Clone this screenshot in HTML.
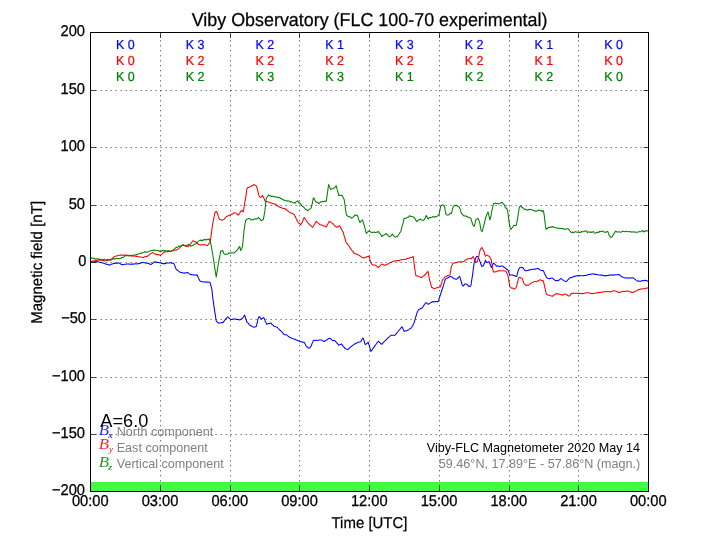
<!DOCTYPE html>
<html lang="en"><head><meta charset="utf-8"><title>Viby Observatory (FLC 100-70 experimental)</title>
<style>
html,body{margin:0;padding:0;background:#fff;}
body{width:720px;height:540px;overflow:hidden;}
svg{display:block;will-change:transform;}
text{font-family:"Liberation Sans",Arial,Helvetica,sans-serif;fill:#000;}
.tk{font-size:15px;}
.al{font-size:15.6px;text-rendering:geometricPrecision;stroke:#000;stroke-width:0.25px;}
.tn{font-size:15.6px;text-rendering:geometricPrecision;stroke:#000;stroke-width:0.3px;}
.k{font-size:13px;text-anchor:middle;text-rendering:geometricPrecision;stroke-width:0.2px;}
.lg{font-size:12.6px;fill:#808080;}
.m{font-family:"Liberation Serif","Times New Roman",serif;font-style:italic;font-size:13px;}
.grid line{stroke:#000;stroke-width:0.625;stroke-dasharray:1.25 3.75;}
.ticks line{stroke:#000;stroke-width:1;stroke-opacity:0.7;}
.curve{fill:none;stroke-width:1.05;stroke-linejoin:round;stroke-linecap:butt;}
</style></head><body>
<svg width="720" height="540" viewBox="0 0 720 540">
<rect x="0" y="0" width="720" height="540" fill="#ffffff"/>
<rect x="90" y="482" width="558.5" height="9.5" fill="#40fb40"/>
<path class="curve" stroke="#0000ff" d="M90.8 262.1 L91.2 262.0 L91.5 261.8 L91.9 261.9 L92.3 261.8 L92.7 261.8 L93.1 261.9 L93.5 261.9 L93.9 261.8 L94.3 261.9 L94.7 261.9 L95.0 261.7 L95.4 261.6 L95.8 261.8 L96.2 261.8 L96.6 261.7 L97.0 261.6 L97.4 261.6 L97.8 261.7 L98.1 261.7 L98.5 261.8 L98.9 262.1 L99.3 262.3 L99.7 262.3 L100.1 262.4 L100.5 262.4 L100.8 262.5 L101.2 262.6 L101.6 262.7 L102.0 262.9 L102.4 263.0 L102.8 263.0 L103.2 263.1 L103.6 263.2 L104.0 263.4 L104.3 263.5 L104.7 263.6 L105.1 263.9 L105.5 264.1 L105.9 264.2 L106.3 264.1 L106.7 264.1 L107.0 264.3 L107.4 264.5 L107.8 264.6 L108.2 264.6 L108.6 264.8 L109.0 265.0 L109.4 265.1 L109.8 265.1 L110.2 264.9 L110.5 264.6 L110.9 264.3 L111.3 264.2 L111.7 264.2 L112.1 264.1 L112.5 264.0 L112.9 263.8 L113.2 263.6 L113.6 263.4 L114.0 263.3 L114.4 263.4 L114.8 263.3 L115.2 263.2 L115.6 263.2 L116.0 263.2 L116.3 263.3 L116.7 263.4 L117.1 263.3 L117.5 263.0 L117.9 262.8 L118.3 262.9 L118.7 263.0 L119.1 263.2 L119.5 263.3 L119.8 263.3 L120.2 263.6 L120.6 264.0 L121.0 264.2 L121.4 264.4 L121.8 264.5 L122.2 264.7 L122.6 264.7 L122.9 264.6 L123.3 264.6 L123.7 264.4 L124.1 264.3 L124.5 264.3 L124.9 264.3 L125.3 264.4 L125.7 264.3 L126.0 264.1 L126.4 263.9 L126.8 264.0 L127.2 264.0 L127.6 264.1 L128.0 264.0 L128.4 264.0 L128.8 264.0 L129.1 264.1 L129.5 264.1 L129.9 264.2 L130.3 264.3 L130.7 264.2 L131.1 264.1 L131.5 264.2 L131.8 264.2 L132.2 264.1 L132.6 264.1 L133.0 264.1 L133.4 264.0 L133.8 264.1 L134.2 264.1 L134.6 264.0 L134.9 263.9 L135.3 263.8 L135.7 263.8 L136.1 263.8 L136.5 263.9 L136.9 263.9 L137.3 263.8 L137.7 263.7 L138.1 263.9 L138.4 263.8 L138.8 263.5 L139.2 263.5 L139.6 263.6 L140.0 263.3 L140.4 263.1 L140.8 263.1 L141.2 262.9 L141.5 262.7 L141.9 262.6 L142.3 262.7 L142.7 262.6 L143.1 262.5 L143.5 262.5 L143.9 262.6 L144.2 262.7 L144.6 262.8 L145.0 262.8 L145.4 262.9 L145.8 263.1 L146.2 263.2 L146.6 263.2 L147.0 263.2 L147.3 263.2 L147.7 263.3 L148.1 263.4 L148.5 263.6 L148.9 263.5 L149.3 263.6 L149.7 264.1 L150.1 264.4 L150.4 264.4 L150.8 264.4 L151.2 264.3 L151.6 264.0 L152.0 263.7 L152.4 263.3 L152.8 263.0 L153.2 262.7 L153.6 262.5 L153.9 262.3 L154.3 262.0 L154.7 261.8 L155.1 261.9 L155.5 262.0 L155.9 262.1 L156.3 261.9 L156.7 262.0 L157.0 262.4 L157.4 262.5 L157.8 262.4 L158.2 262.4 L158.6 262.5 L159.0 262.7 L159.4 262.7 L159.8 262.8 L160.1 262.8 L160.5 262.8 L160.9 263.1 L161.3 263.3 L161.7 263.5 L162.1 263.4 L162.5 263.5 L162.9 263.7 L163.2 263.7 L163.6 263.6 L164.0 263.6 L164.4 263.6 L164.8 263.6 L165.2 263.6 L165.6 263.5 L165.9 263.2 L166.3 263.0 L166.7 263.0 L167.1 263.1 L167.5 263.0 L167.9 262.9 L168.3 262.9 L168.7 262.9 L169.1 263.0 L169.4 263.0 L169.8 262.8 L170.2 262.7 L170.6 262.7 L171.0 262.8 L171.4 263.0 L171.8 263.2 L172.2 263.2 L172.5 263.1 L172.9 263.2 L173.3 263.2 L173.7 263.2 L174.1 264.0 L174.5 265.0 L174.9 265.9 L175.2 266.8 L175.6 267.8 L176.0 268.7 L176.4 269.5 L176.8 269.8 L177.2 270.0 L177.6 270.3 L178.0 270.7 L178.4 270.9 L178.7 271.1 L179.1 271.4 L179.5 271.8 L179.9 272.1 L180.3 272.3 L180.7 272.5 L181.1 272.6 L181.4 272.6 L181.8 272.5 L182.2 272.6 L182.6 272.7 L183.0 272.9 L183.4 273.1 L183.8 273.3 L184.2 273.2 L184.6 273.0 L184.9 272.8 L185.3 272.8 L185.7 272.9 L186.1 272.8 L186.5 272.7 L186.9 272.7 L187.3 272.5 L187.7 272.6 L188.0 272.8 L188.4 273.0 L188.8 273.4 L189.2 273.7 L189.6 273.8 L190.0 274.2 L190.4 274.4 L190.8 274.4 L191.1 274.6 L191.5 274.6 L191.9 274.6 L192.3 274.7 L192.7 274.8 L193.1 274.8 L193.5 275.0 L193.9 274.9 L194.2 274.9 L194.6 274.9 L195.0 274.9 L195.4 275.0 L195.8 275.2 L196.2 275.1 L196.6 275.1 L196.9 274.9 L197.3 275.1 L197.7 276.1 L198.1 277.2 L198.5 278.1 L198.9 279.0 L199.3 279.8 L199.7 280.6 L200.1 281.0 L200.4 281.2 L200.8 281.3 L201.2 281.4 L201.6 281.5 L202.0 281.6 L202.4 281.7 L202.8 281.9 L203.2 282.0 L203.5 282.0 L203.9 282.0 L204.3 282.0 L204.7 281.9 L205.1 282.0 L205.5 282.1 L205.9 282.1 L206.2 282.0 L206.6 282.2 L207.0 282.2 L207.4 282.0 L207.8 281.9 L208.2 282.0 L208.6 282.2 L209.0 282.3 L209.4 282.2 L209.7 282.2 L210.1 282.6 L210.5 284.1 L210.9 285.5 L211.3 287.0 L211.7 288.3 L212.1 291.4 L212.4 294.6 L212.8 297.7 L213.2 300.6 L213.6 303.6 L214.0 306.6 L214.4 309.3 L214.8 311.8 L215.2 314.2 L215.6 316.7 L215.9 319.1 L216.3 321.0 L216.7 321.4 L217.1 321.8 L217.5 322.2 L217.9 322.6 L218.3 323.1 L218.7 323.2 L219.0 323.1 L219.4 323.0 L219.8 323.0 L220.2 323.1 L220.6 322.9 L221.0 322.7 L221.4 322.6 L221.8 322.5 L222.1 322.6 L222.5 322.9 L222.9 322.6 L223.3 322.1 L223.7 321.6 L224.1 321.1 L224.5 320.6 L224.8 320.2 L225.2 319.7 L225.6 319.2 L226.0 318.6 L226.4 318.2 L226.8 317.8 L227.2 317.2 L227.6 316.8 L228.0 317.1 L228.3 317.4 L228.7 317.8 L229.1 318.1 L229.5 318.4 L229.9 318.8 L230.3 319.2 L230.7 319.5 L231.1 319.5 L231.4 319.5 L231.8 319.5 L232.2 319.5 L232.6 319.3 L233.0 319.0 L233.4 319.1 L233.8 319.1 L234.2 319.0 L234.5 318.9 L234.9 318.9 L235.3 319.0 L235.7 319.2 L236.1 319.3 L236.5 319.4 L236.9 319.2 L237.2 319.2 L237.6 319.5 L238.0 319.6 L238.4 319.6 L238.8 319.5 L239.2 319.7 L239.6 319.9 L240.0 320.0 L240.3 319.7 L240.7 319.4 L241.1 319.1 L241.5 318.8 L241.9 318.6 L242.3 318.5 L242.7 318.1 L243.1 317.4 L243.5 316.8 L243.8 316.2 L244.2 315.6 L244.6 315.1 L245.0 316.2 L245.4 317.4 L245.8 318.6 L246.2 319.9 L246.6 321.3 L246.9 322.1 L247.3 322.4 L247.7 322.7 L248.1 323.0 L248.5 323.5 L248.9 324.1 L249.3 324.6 L249.7 325.0 L250.0 325.6 L250.4 325.8 L250.8 325.7 L251.2 325.7 L251.6 325.9 L252.0 326.3 L252.4 326.7 L252.8 326.9 L253.1 326.9 L253.5 327.1 L253.9 327.2 L254.3 327.0 L254.7 327.0 L255.1 327.1 L255.5 326.9 L255.8 326.7 L256.2 326.7 L256.6 325.2 L257.0 323.4 L257.4 321.8 L257.8 320.1 L258.2 318.2 L258.6 317.3 L259.0 317.0 L259.3 316.5 L259.7 316.8 L260.1 317.5 L260.5 318.1 L260.9 318.8 L261.3 319.2 L261.7 318.7 L262.1 318.6 L262.4 318.5 L262.8 318.2 L263.2 317.9 L263.6 317.6 L264.0 318.0 L264.4 318.9 L264.8 319.8 L265.1 320.7 L265.5 321.6 L265.9 322.5 L266.3 323.3 L266.7 324.2 L267.1 324.0 L267.5 323.9 L267.9 323.9 L268.2 323.7 L268.6 323.5 L269.0 323.4 L269.4 323.3 L269.8 323.4 L270.2 323.3 L270.6 323.1 L271.0 323.2 L271.4 323.7 L271.7 324.2 L272.1 324.4 L272.5 324.7 L272.9 325.1 L273.3 325.4 L273.7 325.9 L274.1 326.3 L274.5 326.4 L274.8 326.4 L275.2 326.4 L275.6 326.6 L276.0 326.9 L276.4 327.1 L276.8 327.2 L277.2 327.3 L277.6 327.5 L277.9 328.0 L278.3 328.5 L278.7 328.9 L279.1 329.3 L279.5 329.8 L279.9 330.0 L280.3 330.2 L280.6 330.6 L281.0 331.1 L281.4 331.4 L281.8 331.8 L282.2 332.2 L282.6 332.7 L283.0 333.3 L283.4 333.6 L283.8 334.2 L284.1 334.8 L284.5 334.8 L284.9 334.8 L285.3 334.8 L285.7 334.7 L286.1 334.7 L286.5 334.8 L286.9 335.1 L287.2 335.4 L287.6 335.7 L288.0 336.1 L288.4 336.5 L288.8 336.7 L289.2 336.8 L289.6 337.1 L290.0 337.4 L290.3 337.5 L290.7 337.7 L291.1 337.9 L291.5 338.1 L291.9 338.3 L292.3 338.4 L292.7 338.4 L293.1 338.6 L293.4 338.9 L293.8 339.0 L294.2 339.1 L294.6 339.2 L295.0 339.2 L295.4 339.5 L295.8 339.8 L296.1 340.0 L296.5 340.0 L296.9 340.1 L297.3 340.4 L297.7 340.5 L298.1 340.7 L298.5 341.0 L298.9 341.0 L299.2 341.1 L299.6 341.4 L300.0 341.6 L300.4 341.6 L300.8 341.7 L301.2 341.8 L301.6 341.7 L302.0 341.8 L302.4 342.1 L302.7 342.4 L303.1 342.4 L303.5 342.3 L303.9 342.3 L304.3 342.5 L304.7 343.2 L305.1 343.8 L305.5 344.6 L305.8 345.3 L306.2 346.0 L306.6 346.6 L307.0 346.9 L307.4 347.2 L307.8 347.5 L308.2 347.7 L308.6 348.0 L308.9 348.2 L309.3 348.2 L309.7 348.0 L310.1 347.5 L310.5 346.7 L310.9 346.2 L311.3 345.8 L311.6 344.8 L312.0 343.8 L312.4 342.9 L312.8 341.9 L313.2 340.7 L313.6 340.4 L314.0 340.4 L314.4 340.3 L314.8 340.3 L315.1 340.4 L315.5 340.4 L315.9 340.2 L316.3 340.2 L316.7 340.3 L317.1 340.4 L317.5 340.4 L317.9 340.4 L318.2 340.3 L318.6 340.1 L319.0 339.9 L319.4 339.9 L319.8 340.0 L320.2 340.0 L320.6 340.0 L321.0 339.9 L321.3 339.9 L321.7 340.2 L322.1 340.4 L322.5 340.6 L322.9 340.9 L323.3 341.0 L323.7 341.3 L324.1 341.5 L324.4 341.3 L324.8 341.0 L325.2 340.8 L325.6 340.6 L326.0 340.3 L326.4 340.0 L326.8 339.9 L327.1 339.6 L327.5 339.3 L327.9 339.1 L328.3 338.8 L328.7 338.5 L329.1 338.5 L329.5 338.5 L329.9 338.3 L330.2 338.5 L330.6 338.8 L331.0 339.0 L331.4 339.3 L331.8 339.8 L332.2 340.1 L332.6 340.4 L333.0 340.5 L333.4 340.6 L333.7 340.6 L334.1 340.6 L334.5 340.5 L334.9 340.6 L335.3 341.1 L335.7 341.6 L336.1 342.0 L336.5 342.4 L336.8 342.9 L337.2 343.3 L337.6 343.7 L338.0 344.1 L338.4 344.6 L338.8 345.1 L339.2 345.0 L339.6 344.8 L339.9 344.6 L340.3 344.5 L340.7 344.4 L341.1 344.1 L341.5 344.0 L341.9 344.3 L342.3 344.9 L342.6 345.6 L343.0 346.1 L343.4 346.6 L343.8 347.0 L344.2 347.3 L344.6 347.8 L345.0 348.4 L345.4 348.6 L345.8 348.7 L346.1 348.9 L346.5 349.1 L346.9 349.3 L347.3 349.6 L347.7 349.7 L348.1 349.4 L348.5 349.0 L348.9 348.7 L349.2 348.3 L349.6 347.9 L350.0 347.4 L350.4 347.0 L350.8 346.8 L351.2 346.7 L351.6 346.3 L351.9 345.9 L352.3 345.7 L352.7 345.4 L353.1 345.1 L353.5 344.8 L353.9 344.5 L354.3 344.2 L354.7 343.8 L355.1 343.7 L355.4 343.9 L355.8 343.6 L356.2 343.1 L356.6 343.0 L357.0 342.9 L357.4 342.7 L357.8 342.4 L358.2 342.2 L358.5 342.2 L358.9 342.1 L359.3 342.0 L359.7 341.9 L360.1 341.9 L360.5 341.9 L360.9 341.7 L361.2 340.8 L361.6 340.0 L362.0 339.3 L362.4 338.7 L362.8 338.0 L363.2 338.2 L363.6 339.4 L364.0 340.5 L364.4 341.8 L364.7 343.2 L365.1 344.4 L365.5 344.6 L365.9 344.1 L366.3 343.7 L366.7 343.5 L367.1 343.3 L367.4 343.0 L367.8 342.6 L368.2 342.2 L368.6 343.3 L369.0 344.8 L369.4 346.1 L369.8 347.6 L370.2 349.2 L370.6 350.7 L370.9 351.4 L371.3 350.8 L371.7 350.3 L372.1 349.8 L372.5 349.2 L372.9 348.7 L373.3 348.2 L373.7 347.7 L374.0 347.2 L374.4 346.7 L374.8 346.0 L375.2 345.3 L375.6 344.8 L376.0 344.3 L376.4 343.7 L376.8 343.0 L377.1 342.6 L377.5 342.3 L377.9 341.8 L378.3 341.2 L378.7 341.5 L379.1 341.9 L379.5 342.2 L379.9 342.6 L380.2 343.0 L380.6 343.3 L381.0 343.6 L381.4 344.1 L381.8 344.3 L382.2 343.8 L382.6 343.4 L382.9 342.9 L383.3 342.4 L383.7 342.0 L384.1 341.6 L384.5 341.3 L384.9 341.0 L385.3 340.6 L385.7 340.0 L386.1 339.7 L386.4 339.5 L386.8 339.1 L387.2 338.5 L387.6 338.3 L388.0 337.9 L388.4 337.4 L388.8 337.1 L389.2 336.9 L389.5 336.6 L389.9 336.3 L390.3 335.9 L390.7 335.5 L391.1 335.3 L391.5 335.2 L391.9 335.2 L392.2 335.2 L392.6 335.2 L393.0 335.2 L393.4 335.2 L393.8 335.2 L394.2 335.4 L394.6 335.4 L395.0 335.1 L395.4 334.7 L395.7 334.3 L396.1 333.9 L396.5 333.3 L396.9 332.8 L397.3 332.4 L397.7 332.0 L398.1 331.5 L398.4 331.0 L398.8 330.4 L399.2 330.0 L399.6 329.5 L400.0 329.1 L400.4 328.6 L400.8 328.2 L401.2 327.7 L401.6 327.1 L401.9 326.7 L402.3 327.4 L402.7 328.1 L403.1 329.0 L403.5 330.0 L403.9 330.8 L404.3 331.4 L404.7 331.1 L405.0 330.9 L405.4 330.8 L405.8 330.9 L406.2 330.9 L406.6 330.7 L407.0 330.5 L407.4 330.3 L407.8 330.1 L408.1 330.0 L408.5 329.9 L408.9 329.6 L409.3 329.3 L409.7 328.9 L410.1 328.5 L410.5 328.4 L410.9 328.2 L411.2 327.9 L411.6 327.5 L412.0 326.8 L412.4 326.1 L412.8 325.4 L413.2 324.6 L413.6 323.8 L413.9 323.0 L414.3 322.1 L414.7 320.6 L415.1 319.2 L415.5 317.8 L415.9 316.5 L416.3 315.1 L416.7 313.6 L417.1 312.6 L417.4 311.7 L417.8 311.1 L418.2 310.4 L418.6 309.8 L419.0 309.4 L419.4 309.3 L419.8 309.2 L420.2 309.0 L420.5 308.6 L420.9 308.5 L421.3 308.3 L421.7 308.2 L422.1 308.1 L422.5 307.8 L422.9 307.1 L423.2 306.4 L423.6 305.7 L424.0 305.1 L424.4 304.6 L424.8 304.0 L425.2 303.3 L425.6 302.7 L426.0 302.6 L426.4 302.9 L426.7 303.1 L427.1 303.4 L427.5 303.8 L427.9 304.0 L428.3 304.2 L428.7 304.1 L429.1 304.0 L429.4 303.6 L429.8 303.4 L430.2 303.1 L430.6 302.8 L431.0 302.6 L431.4 302.5 L431.8 302.3 L432.2 302.0 L432.6 301.8 L432.9 301.7 L433.3 301.6 L433.7 301.6 L434.1 301.7 L434.5 301.9 L434.9 301.8 L435.3 301.6 L435.7 301.7 L436.0 301.5 L436.4 301.4 L436.8 301.5 L437.2 301.6 L437.6 301.6 L438.0 301.6 L438.4 301.3 L438.8 300.1 L439.1 298.7 L439.5 297.5 L439.9 296.3 L440.3 295.1 L440.7 293.8 L441.1 292.5 L441.5 291.3 L441.9 290.3 L442.2 289.1 L442.6 288.0 L443.0 286.8 L443.4 285.6 L443.8 284.3 L444.2 282.9 L444.6 281.7 L444.9 280.5 L445.3 279.3 L445.7 279.0 L446.1 278.7 L446.5 278.4 L446.9 278.2 L447.3 278.1 L447.7 277.9 L448.1 277.8 L448.4 277.5 L448.8 277.2 L449.2 277.0 L449.6 276.8 L450.0 276.6 L450.4 276.5 L450.8 276.4 L451.2 276.7 L451.5 276.9 L451.9 277.0 L452.3 277.3 L452.7 277.5 L453.1 277.8 L453.5 278.3 L453.9 278.7 L454.2 278.8 L454.6 278.8 L455.0 278.9 L455.4 279.0 L455.8 279.2 L456.2 279.3 L456.6 279.2 L457.0 278.8 L457.4 278.5 L457.7 278.3 L458.1 277.9 L458.5 277.4 L458.9 277.0 L459.3 276.7 L459.7 276.4 L460.1 277.6 L460.4 278.8 L460.8 280.2 L461.2 281.6 L461.6 283.0 L462.0 284.3 L462.4 285.0 L462.8 285.5 L463.2 286.1 L463.6 285.9 L463.9 285.2 L464.3 284.7 L464.7 284.2 L465.1 283.9 L465.5 284.0 L465.9 284.1 L466.3 284.1 L466.7 284.3 L467.0 284.3 L467.4 284.6 L467.8 285.2 L468.2 285.9 L468.6 286.3 L469.0 286.0 L469.4 286.1 L469.8 286.3 L470.1 286.3 L470.5 286.3 L470.9 285.5 L471.3 283.0 L471.7 280.4 L472.1 277.8 L472.5 275.3 L472.9 272.6 L473.2 269.8 L473.6 266.9 L474.0 264.1 L474.4 261.3 L474.8 260.4 L475.2 259.5 L475.6 258.6 L475.9 257.6 L476.3 256.9 L476.7 256.6 L477.1 256.6 L477.5 256.5 L477.9 256.6 L478.3 257.4 L478.7 258.2 L479.1 259.2 L479.4 260.1 L479.8 261.0 L480.2 262.1 L480.6 263.3 L481.0 264.5 L481.4 265.7 L481.8 266.6 L482.2 266.4 L482.5 266.0 L482.9 266.0 L483.3 265.8 L483.7 265.0 L484.1 264.0 L484.5 263.0 L484.9 262.0 L485.2 261.0 L485.6 260.4 L486.0 261.0 L486.4 261.5 L486.8 262.0 L487.2 262.6 L487.6 262.4 L488.0 262.2 L488.4 261.9 L488.7 261.6 L489.1 261.9 L489.5 262.8 L489.9 263.8 L490.3 264.8 L490.7 265.8 L491.1 266.7 L491.4 267.5 L491.8 266.8 L492.2 266.0 L492.6 265.0 L493.0 264.1 L493.4 263.2 L493.8 263.2 L494.2 263.7 L494.6 264.2 L494.9 264.4 L495.3 264.6 L495.7 265.0 L496.1 265.6 L496.5 266.1 L496.9 266.1 L497.3 266.0 L497.7 265.9 L498.0 266.0 L498.4 266.0 L498.8 266.2 L499.2 266.5 L499.6 266.5 L500.0 266.4 L500.4 266.3 L500.8 266.2 L501.1 266.0 L501.5 265.9 L501.9 265.9 L502.3 265.9 L502.7 266.1 L503.1 266.4 L503.5 266.8 L503.9 267.0 L504.2 267.2 L504.6 267.5 L505.0 267.8 L505.4 268.0 L505.8 268.5 L506.2 269.0 L506.6 269.3 L506.9 269.4 L507.3 269.4 L507.7 269.7 L508.1 270.5 L508.5 271.4 L508.9 272.5 L509.3 273.7 L509.7 274.7 L510.1 274.8 L510.4 274.9 L510.8 275.0 L511.2 274.9 L511.6 274.9 L512.0 275.0 L512.4 275.0 L512.8 275.0 L513.2 275.3 L513.5 275.5 L513.9 275.6 L514.3 275.7 L514.7 275.7 L515.1 275.9 L515.5 276.0 L515.9 276.3 L516.2 276.5 L516.6 276.6 L517.0 275.4 L517.4 273.9 L517.8 272.2 L518.2 270.6 L518.6 269.5 L519.0 268.9 L519.4 268.3 L519.7 267.8 L520.1 267.4 L520.5 267.3 L520.9 267.3 L521.3 267.4 L521.7 267.5 L522.1 267.4 L522.5 267.5 L522.8 267.7 L523.2 268.1 L523.6 268.7 L524.0 269.3 L524.4 269.9 L524.8 270.3 L525.2 270.7 L525.5 270.8 L525.9 270.8 L526.3 270.8 L526.7 270.7 L527.1 270.5 L527.5 270.5 L527.9 270.4 L528.3 270.2 L528.7 270.0 L529.0 270.1 L529.4 270.2 L529.8 270.0 L530.2 269.7 L530.6 269.6 L531.0 269.5 L531.4 269.4 L531.8 269.3 L532.1 269.3 L532.5 269.2 L532.9 269.2 L533.3 269.3 L533.7 269.2 L534.1 269.1 L534.5 269.2 L534.9 269.1 L535.2 269.1 L535.6 269.1 L536.0 269.0 L536.4 268.8 L536.8 268.7 L537.2 268.7 L537.6 268.6 L538.0 268.3 L538.3 268.5 L538.7 268.8 L539.1 269.2 L539.5 269.5 L539.9 269.7 L540.3 269.9 L540.7 270.1 L541.0 270.3 L541.4 270.5 L541.8 270.6 L542.2 270.5 L542.6 270.6 L543.0 270.6 L543.4 270.8 L543.8 271.6 L544.2 272.6 L544.5 273.5 L544.9 274.3 L545.3 275.1 L545.7 275.9 L546.1 276.5 L546.5 277.3 L546.9 278.0 L547.2 278.2 L547.6 278.3 L548.0 278.3 L548.4 278.4 L548.8 278.5 L549.2 278.6 L549.6 278.6 L550.0 278.6 L550.4 278.5 L550.7 278.4 L551.1 278.2 L551.5 278.0 L551.9 278.0 L552.3 278.1 L552.7 278.4 L553.1 278.7 L553.5 279.1 L553.8 279.4 L554.2 279.6 L554.6 279.9 L555.0 280.4 L555.4 280.6 L555.8 280.6 L556.2 280.6 L556.5 280.6 L556.9 280.5 L557.3 280.4 L557.7 280.6 L558.1 280.6 L558.5 280.2 L558.9 280.0 L559.3 279.9 L559.7 279.6 L560.0 279.2 L560.4 278.9 L560.8 278.6 L561.2 278.5 L561.6 278.9 L562.0 279.2 L562.4 279.6 L562.8 279.9 L563.1 280.2 L563.5 280.4 L563.9 280.7 L564.3 280.9 L564.7 281.1 L565.1 281.4 L565.5 281.6 L565.9 281.7 L566.2 281.4 L566.6 281.1 L567.0 280.9 L567.4 280.4 L567.8 279.9 L568.2 279.5 L568.6 279.1 L569.0 278.7 L569.3 278.3 L569.7 278.0 L570.1 277.9 L570.5 277.7 L570.9 277.5 L571.3 277.4 L571.7 277.3 L572.0 277.2 L572.4 277.1 L572.8 277.1 L573.2 276.8 L573.6 276.6 L574.0 276.6 L574.4 276.5 L574.8 276.2 L575.2 276.1 L575.5 276.2 L575.9 276.2 L576.3 275.9 L576.7 275.7 L577.1 275.7 L577.5 275.9 L577.9 275.8 L578.2 275.6 L578.6 275.6 L579.0 275.6 L579.4 275.6 L579.8 275.7 L580.2 275.7 L580.6 275.7 L581.0 275.7 L581.4 275.7 L581.7 275.7 L582.1 275.7 L582.5 275.7 L582.9 275.7 L583.3 275.7 L583.7 275.7 L584.1 275.6 L584.5 275.4 L584.8 275.4 L585.2 275.5 L585.6 275.5 L586.0 275.4 L586.4 275.4 L586.8 275.2 L587.2 275.0 L587.5 274.8 L587.9 274.6 L588.3 274.5 L588.7 274.6 L589.1 274.5 L589.5 274.3 L589.9 274.4 L590.3 274.4 L590.7 274.3 L591.0 274.0 L591.4 273.9 L591.8 273.9 L592.2 273.8 L592.6 273.7 L593.0 273.9 L593.4 274.0 L593.8 273.9 L594.1 274.0 L594.5 274.3 L594.9 274.5 L595.3 274.3 L595.7 274.3 L596.1 274.5 L596.5 274.6 L596.9 274.6 L597.2 274.7 L597.6 274.7 L598.0 274.7 L598.4 274.8 L598.8 274.9 L599.2 275.0 L599.6 274.9 L600.0 274.9 L600.3 275.0 L600.7 275.1 L601.1 275.1 L601.5 275.1 L601.9 275.1 L602.3 275.1 L602.7 275.2 L603.1 275.4 L603.4 275.6 L603.8 275.7 L604.2 275.6 L604.6 275.7 L605.0 275.9 L605.4 275.8 L605.8 275.7 L606.1 275.6 L606.5 275.6 L606.9 275.6 L607.3 275.4 L607.7 275.4 L608.1 275.4 L608.5 275.3 L608.9 275.2 L609.2 275.1 L609.6 275.1 L610.0 275.0 L610.4 275.0 L610.8 275.1 L611.2 275.2 L611.6 275.0 L612.0 274.8 L612.4 274.8 L612.7 274.9 L613.1 275.0 L613.5 275.2 L613.9 275.3 L614.3 275.0 L614.7 274.8 L615.1 274.8 L615.5 274.8 L615.8 274.7 L616.2 274.7 L616.6 274.8 L617.0 274.8 L617.4 274.8 L617.8 274.7 L618.2 274.6 L618.6 274.6 L618.9 274.6 L619.3 274.7 L619.7 275.0 L620.1 275.3 L620.5 275.7 L620.9 276.1 L621.3 276.5 L621.6 276.8 L622.0 276.9 L622.4 277.0 L622.8 277.1 L623.2 277.3 L623.6 277.4 L624.0 277.6 L624.4 277.8 L624.8 277.9 L625.1 278.0 L625.5 278.0 L625.9 277.8 L626.3 277.8 L626.7 277.9 L627.1 277.9 L627.5 277.9 L627.9 278.0 L628.2 278.1 L628.6 278.1 L629.0 277.9 L629.4 278.0 L629.8 278.1 L630.2 277.9 L630.6 277.8 L631.0 278.0 L631.3 278.0 L631.7 278.0 L632.1 278.0 L632.5 277.9 L632.9 277.8 L633.3 277.9 L633.7 278.2 L634.1 278.5 L634.4 278.8 L634.8 279.1 L635.2 279.4 L635.6 279.7 L636.0 280.1 L636.4 280.4 L636.8 280.6 L637.1 280.8 L637.5 281.1 L637.9 281.2 L638.3 281.2 L638.7 280.9 L639.1 280.9 L639.5 281.2 L639.9 281.4 L640.2 281.3 L640.6 281.2 L641.0 281.0 L641.4 280.9 L641.8 280.8 L642.2 280.6 L642.6 280.6 L643.0 280.7 L643.4 280.8 L643.7 280.7 L644.1 280.5 L644.5 280.3 L644.9 280.2 L645.3 280.4 L645.7 280.5 L646.1 280.6 L646.5 280.6 L646.8 280.7 L647.2 280.8 L647.6 281.1 L648.0 281.3"/>
<path class="curve" stroke="#ff0000" d="M90.8 261.6 L91.2 261.4 L91.5 261.3 L91.9 261.3 L92.3 261.1 L92.7 261.0 L93.1 261.0 L93.5 260.8 L93.9 260.7 L94.3 260.7 L94.7 260.9 L95.0 261.0 L95.4 260.7 L95.8 260.4 L96.2 260.4 L96.6 260.3 L97.0 260.3 L97.4 260.2 L97.8 260.0 L98.1 259.9 L98.5 259.9 L98.9 260.1 L99.3 260.1 L99.7 260.1 L100.1 260.1 L100.5 260.2 L100.8 260.2 L101.2 260.1 L101.6 260.2 L102.0 260.4 L102.4 260.6 L102.8 260.7 L103.2 260.5 L103.6 260.5 L104.0 260.8 L104.3 261.0 L104.7 260.9 L105.1 260.7 L105.5 260.7 L105.9 260.7 L106.3 260.6 L106.7 260.4 L107.0 260.3 L107.4 260.6 L107.8 260.6 L108.2 260.3 L108.6 260.2 L109.0 260.1 L109.4 260.0 L109.8 260.0 L110.2 259.8 L110.5 259.4 L110.9 259.1 L111.3 258.9 L111.7 258.8 L112.1 258.6 L112.5 258.2 L112.9 258.0 L113.2 257.6 L113.6 257.2 L114.0 257.0 L114.4 256.8 L114.8 256.7 L115.2 256.4 L115.6 256.2 L116.0 256.1 L116.3 256.0 L116.7 255.8 L117.1 255.9 L117.5 255.8 L117.9 255.6 L118.3 255.5 L118.7 255.4 L119.1 255.2 L119.5 255.2 L119.8 255.2 L120.2 255.0 L120.6 255.1 L121.0 255.2 L121.4 255.0 L121.8 255.0 L122.2 255.2 L122.6 255.3 L122.9 255.3 L123.3 255.1 L123.7 255.0 L124.1 255.2 L124.5 255.3 L124.9 255.1 L125.3 255.1 L125.7 255.1 L126.0 255.1 L126.4 255.2 L126.8 255.2 L127.2 255.1 L127.6 255.3 L128.0 255.4 L128.4 255.4 L128.8 255.4 L129.1 255.3 L129.5 255.5 L129.9 255.6 L130.3 255.5 L130.7 255.7 L131.1 255.9 L131.5 256.2 L131.8 256.3 L132.2 256.0 L132.6 255.8 L133.0 255.8 L133.4 255.9 L133.8 255.9 L134.2 255.9 L134.6 256.0 L134.9 256.1 L135.3 256.1 L135.7 256.1 L136.1 256.3 L136.5 256.5 L136.9 256.3 L137.3 256.3 L137.7 256.5 L138.1 256.6 L138.4 256.8 L138.8 257.0 L139.2 257.1 L139.6 257.0 L140.0 257.0 L140.4 257.0 L140.8 256.9 L141.2 257.0 L141.5 257.1 L141.9 257.2 L142.3 257.4 L142.7 257.5 L143.1 257.5 L143.5 257.3 L143.9 257.3 L144.2 257.2 L144.6 256.9 L145.0 256.6 L145.4 256.5 L145.8 256.2 L146.2 256.3 L146.6 256.6 L147.0 256.6 L147.3 256.3 L147.7 256.0 L148.1 255.8 L148.5 255.6 L148.9 255.2 L149.3 254.8 L149.7 254.3 L150.1 253.9 L150.4 253.8 L150.8 253.7 L151.2 253.4 L151.6 253.1 L152.0 252.8 L152.4 252.6 L152.8 252.6 L153.2 252.9 L153.6 253.0 L153.9 253.0 L154.3 253.4 L154.7 253.7 L155.1 253.8 L155.5 254.2 L155.9 254.6 L156.3 254.6 L156.7 254.4 L157.0 254.3 L157.4 254.5 L157.8 254.7 L158.2 254.6 L158.6 254.7 L159.0 254.9 L159.4 255.0 L159.8 255.1 L160.1 255.4 L160.5 255.5 L160.9 255.0 L161.3 254.6 L161.7 254.4 L162.1 254.1 L162.5 253.7 L162.9 253.1 L163.2 252.8 L163.6 252.7 L164.0 252.4 L164.4 252.2 L164.8 251.8 L165.2 251.5 L165.6 251.4 L165.9 251.5 L166.3 251.8 L166.7 251.7 L167.1 251.7 L167.5 251.7 L167.9 251.5 L168.3 251.3 L168.7 251.3 L169.1 251.5 L169.4 251.6 L169.8 251.5 L170.2 251.3 L170.6 251.4 L171.0 251.4 L171.4 251.2 L171.8 251.0 L172.2 250.8 L172.5 250.8 L172.9 250.7 L173.3 250.4 L173.7 250.4 L174.1 250.4 L174.5 250.3 L174.9 250.2 L175.2 250.1 L175.6 249.9 L176.0 249.9 L176.4 250.0 L176.8 249.7 L177.2 249.4 L177.6 249.2 L178.0 249.1 L178.4 249.0 L178.7 248.7 L179.1 248.4 L179.5 248.0 L179.9 247.6 L180.3 247.2 L180.7 246.8 L181.1 246.2 L181.4 245.8 L181.8 245.4 L182.2 245.1 L182.6 245.4 L183.0 245.4 L183.4 245.4 L183.8 245.4 L184.2 245.4 L184.6 245.7 L184.9 245.9 L185.3 246.0 L185.7 246.2 L186.1 246.2 L186.5 246.4 L186.9 246.5 L187.3 246.5 L187.7 246.6 L188.0 246.7 L188.4 246.2 L188.8 245.6 L189.2 245.0 L189.6 244.7 L190.0 244.4 L190.4 243.9 L190.8 243.6 L191.1 243.3 L191.5 242.7 L191.9 242.1 L192.3 241.5 L192.7 241.0 L193.1 240.7 L193.5 240.9 L193.9 241.1 L194.2 241.3 L194.6 241.5 L195.0 241.5 L195.4 241.7 L195.8 242.0 L196.2 242.2 L196.6 242.5 L196.9 242.8 L197.3 243.2 L197.7 243.7 L198.1 244.1 L198.5 244.3 L198.9 244.5 L199.3 244.8 L199.7 244.7 L200.1 244.6 L200.4 244.9 L200.8 244.9 L201.2 244.9 L201.6 244.8 L202.0 244.6 L202.4 244.7 L202.8 245.0 L203.2 245.0 L203.5 244.9 L203.9 244.9 L204.3 244.7 L204.7 244.6 L205.1 244.7 L205.5 244.7 L205.9 244.9 L206.2 245.2 L206.6 245.4 L207.0 245.7 L207.4 245.8 L207.8 245.2 L208.2 244.7 L208.6 244.2 L209.0 243.6 L209.4 243.0 L209.7 242.6 L210.1 242.0 L210.5 240.1 L210.9 237.1 L211.3 234.0 L211.7 231.0 L212.1 228.2 L212.4 225.2 L212.8 223.1 L213.2 221.1 L213.6 219.1 L214.0 217.1 L214.4 215.0 L214.8 213.2 L215.2 212.3 L215.6 211.9 L215.9 211.4 L216.3 211.4 L216.7 211.5 L217.1 212.8 L217.5 213.9 L217.9 215.0 L218.3 216.4 L218.7 217.5 L219.0 218.6 L219.4 219.2 L219.8 219.5 L220.2 219.6 L220.6 219.7 L221.0 219.9 L221.4 220.0 L221.8 220.1 L222.1 220.2 L222.5 220.2 L222.9 219.9 L223.3 219.6 L223.7 219.4 L224.1 219.1 L224.5 218.6 L224.8 218.3 L225.2 218.0 L225.6 217.5 L226.0 217.0 L226.4 216.5 L226.8 216.3 L227.2 216.3 L227.6 216.2 L228.0 215.9 L228.3 215.5 L228.7 215.3 L229.1 215.2 L229.5 215.2 L229.9 215.4 L230.3 215.1 L230.7 214.7 L231.1 214.4 L231.4 214.3 L231.8 214.2 L232.2 214.0 L232.6 214.0 L233.0 213.8 L233.4 213.3 L233.8 213.0 L234.2 212.9 L234.5 212.8 L234.9 212.7 L235.3 212.8 L235.7 213.1 L236.1 213.4 L236.5 213.6 L236.9 213.9 L237.2 214.4 L237.6 214.9 L238.0 215.0 L238.4 214.9 L238.8 214.4 L239.2 213.7 L239.6 213.0 L240.0 212.6 L240.3 212.2 L240.7 211.4 L241.1 210.7 L241.5 210.4 L241.9 210.5 L242.3 210.9 L242.7 211.4 L243.1 211.9 L243.5 211.2 L243.8 208.7 L244.2 206.3 L244.6 204.0 L245.0 201.7 L245.4 199.1 L245.8 196.5 L246.2 194.1 L246.6 191.4 L246.9 188.7 L247.3 188.1 L247.7 187.7 L248.1 187.4 L248.5 187.4 L248.9 187.3 L249.3 187.2 L249.7 187.0 L250.0 186.7 L250.4 186.5 L250.8 186.3 L251.2 186.2 L251.6 186.0 L252.0 185.8 L252.4 185.5 L252.8 185.2 L253.1 185.2 L253.5 185.1 L253.9 184.7 L254.3 184.5 L254.7 184.9 L255.1 185.3 L255.5 185.4 L255.8 185.6 L256.2 186.0 L256.6 186.2 L257.0 187.7 L257.4 189.4 L257.8 190.9 L258.2 192.5 L258.6 194.1 L259.0 195.6 L259.3 196.6 L259.7 196.7 L260.1 197.1 L260.5 197.5 L260.9 197.5 L261.3 197.0 L261.7 196.5 L262.1 195.8 L262.4 195.4 L262.8 195.9 L263.2 196.6 L263.6 197.5 L264.0 198.4 L264.4 199.3 L264.8 200.4 L265.1 201.2 L265.5 201.2 L265.9 201.3 L266.3 201.5 L266.7 201.7 L267.1 201.7 L267.5 201.7 L267.9 201.9 L268.2 202.0 L268.6 202.1 L269.0 202.2 L269.4 202.4 L269.8 202.7 L270.2 202.8 L270.6 203.0 L271.0 203.0 L271.4 202.9 L271.7 203.1 L272.1 203.5 L272.5 203.6 L272.9 203.6 L273.3 203.7 L273.7 203.8 L274.1 203.9 L274.5 204.1 L274.8 204.1 L275.2 204.0 L275.6 204.2 L276.0 204.7 L276.4 205.2 L276.8 205.3 L277.2 205.4 L277.6 205.7 L277.9 206.2 L278.3 206.4 L278.7 206.6 L279.1 206.8 L279.5 207.0 L279.9 207.3 L280.3 207.5 L280.6 207.4 L281.0 207.4 L281.4 207.7 L281.8 208.0 L282.2 208.2 L282.6 208.2 L283.0 208.3 L283.4 208.4 L283.8 208.6 L284.1 208.7 L284.5 208.6 L284.9 208.6 L285.3 209.0 L285.7 209.3 L286.1 209.4 L286.5 209.7 L286.9 210.2 L287.2 210.7 L287.6 210.7 L288.0 210.8 L288.4 211.3 L288.8 211.7 L289.2 212.1 L289.6 212.3 L290.0 212.4 L290.3 212.7 L290.7 213.0 L291.1 213.2 L291.5 213.2 L291.9 213.3 L292.3 213.5 L292.7 213.6 L293.1 213.8 L293.4 214.2 L293.8 214.3 L294.2 214.4 L294.6 215.2 L295.0 215.9 L295.4 216.8 L295.8 217.7 L296.1 218.5 L296.5 219.3 L296.9 220.2 L297.3 221.2 L297.7 221.9 L298.1 222.5 L298.5 223.0 L298.9 223.1 L299.2 223.3 L299.6 223.5 L300.0 223.9 L300.4 224.5 L300.8 224.9 L301.2 224.0 L301.6 223.3 L302.0 222.6 L302.4 221.8 L302.7 221.0 L303.1 219.9 L303.5 218.8 L303.9 218.1 L304.3 217.6 L304.7 218.1 L305.1 218.7 L305.5 219.4 L305.8 220.1 L306.2 220.5 L306.6 221.0 L307.0 221.6 L307.4 222.1 L307.8 222.7 L308.2 223.2 L308.6 223.4 L308.9 223.8 L309.3 224.3 L309.7 224.9 L310.1 225.2 L310.5 225.3 L310.9 225.6 L311.3 226.2 L311.6 226.6 L312.0 227.0 L312.4 227.4 L312.8 227.1 L313.2 226.5 L313.6 225.8 L314.0 225.1 L314.4 224.4 L314.8 223.8 L315.1 223.3 L315.5 222.6 L315.9 221.9 L316.3 221.3 L316.7 221.8 L317.1 222.3 L317.5 222.6 L317.9 222.9 L318.2 223.3 L318.6 223.5 L319.0 223.9 L319.4 224.3 L319.8 224.5 L320.2 224.7 L320.6 224.9 L321.0 225.0 L321.3 225.0 L321.7 225.1 L322.1 225.2 L322.5 225.2 L322.9 225.4 L323.3 225.8 L323.7 226.0 L324.1 226.0 L324.4 225.9 L324.8 226.0 L325.2 226.2 L325.6 226.6 L326.0 227.0 L326.4 227.0 L326.8 226.1 L327.1 225.2 L327.5 224.5 L327.9 223.8 L328.3 223.2 L328.7 222.4 L329.1 221.5 L329.5 221.5 L329.9 221.8 L330.2 222.0 L330.6 222.0 L331.0 222.1 L331.4 222.5 L331.8 222.9 L332.2 223.2 L332.6 223.5 L333.0 223.8 L333.4 224.2 L333.7 224.7 L334.1 225.1 L334.5 225.5 L334.9 225.9 L335.3 226.4 L335.7 226.6 L336.1 226.7 L336.5 227.1 L336.8 227.3 L337.2 227.0 L337.6 226.8 L338.0 226.8 L338.4 226.5 L338.8 226.1 L339.2 225.8 L339.6 225.7 L339.9 226.1 L340.3 226.9 L340.7 227.9 L341.1 228.7 L341.5 229.1 L341.9 229.8 L342.3 230.8 L342.6 231.4 L343.0 231.9 L343.4 232.8 L343.8 234.4 L344.2 236.0 L344.6 237.4 L345.0 238.6 L345.4 240.0 L345.8 241.5 L346.1 242.2 L346.5 242.9 L346.9 243.4 L347.3 243.7 L347.7 244.2 L348.1 244.9 L348.5 245.5 L348.9 245.9 L349.2 246.3 L349.6 246.9 L350.0 247.5 L350.4 248.2 L350.8 248.9 L351.2 249.4 L351.6 249.8 L351.9 250.2 L352.3 250.8 L352.7 251.2 L353.1 251.7 L353.5 252.4 L353.9 253.0 L354.3 253.4 L354.7 253.3 L355.1 253.4 L355.4 253.7 L355.8 253.9 L356.2 254.1 L356.6 254.1 L357.0 254.2 L357.4 254.4 L357.8 254.8 L358.2 254.9 L358.5 255.0 L358.9 255.1 L359.3 255.4 L359.7 255.8 L360.1 256.0 L360.5 256.3 L360.9 256.6 L361.2 256.8 L361.6 257.2 L362.0 257.5 L362.4 257.6 L362.8 257.8 L363.2 257.9 L363.6 257.8 L364.0 257.8 L364.4 258.0 L364.7 257.8 L365.1 257.5 L365.5 257.3 L365.9 257.1 L366.3 257.0 L366.7 256.7 L367.1 256.5 L367.4 256.4 L367.8 256.6 L368.2 256.6 L368.6 256.3 L369.0 255.9 L369.4 256.9 L369.8 259.0 L370.2 261.0 L370.6 262.0 L370.9 262.6 L371.3 263.3 L371.7 263.9 L372.1 264.3 L372.5 264.8 L372.9 264.9 L373.3 265.0 L373.7 265.1 L374.0 265.0 L374.4 265.0 L374.8 264.9 L375.2 265.2 L375.6 265.4 L376.0 265.5 L376.4 265.9 L376.8 266.3 L377.1 266.5 L377.5 266.9 L377.9 267.2 L378.3 267.5 L378.7 267.0 L379.1 266.8 L379.5 266.4 L379.9 266.0 L380.2 265.5 L380.6 265.2 L381.0 264.9 L381.4 264.5 L381.8 264.3 L382.2 264.3 L382.6 264.2 L382.9 264.3 L383.3 264.5 L383.7 264.9 L384.1 265.2 L384.5 265.2 L384.9 264.9 L385.3 264.9 L385.7 265.2 L386.1 265.1 L386.4 264.8 L386.8 264.7 L387.2 264.5 L387.6 264.0 L388.0 263.8 L388.4 263.7 L388.8 263.5 L389.2 263.2 L389.5 262.9 L389.9 262.8 L390.3 262.7 L390.7 262.6 L391.1 262.4 L391.5 262.1 L391.9 261.8 L392.2 261.7 L392.6 261.5 L393.0 261.2 L393.4 261.2 L393.8 261.3 L394.2 261.1 L394.6 261.0 L395.0 261.0 L395.4 261.1 L395.7 260.8 L396.1 260.6 L396.5 260.7 L396.9 260.9 L397.3 260.8 L397.7 260.6 L398.1 260.5 L398.4 260.4 L398.8 260.5 L399.2 260.7 L399.6 260.5 L400.0 260.1 L400.4 259.9 L400.8 259.8 L401.2 259.6 L401.6 259.6 L401.9 259.8 L402.3 259.8 L402.7 259.8 L403.1 259.6 L403.5 259.4 L403.9 259.4 L404.3 259.3 L404.7 259.3 L405.0 259.3 L405.4 259.4 L405.8 259.3 L406.2 259.1 L406.6 258.7 L407.0 258.6 L407.4 258.5 L407.8 258.4 L408.1 258.2 L408.5 258.3 L408.9 258.3 L409.3 258.1 L409.7 257.9 L410.1 257.8 L410.5 257.5 L410.9 257.4 L411.2 257.5 L411.6 257.4 L412.0 257.1 L412.4 256.8 L412.8 256.6 L413.2 256.6 L413.6 258.9 L413.9 262.0 L414.3 265.2 L414.7 268.5 L415.1 271.0 L415.5 273.5 L415.9 275.7 L416.3 275.8 L416.7 276.0 L417.1 276.0 L417.4 275.9 L417.8 276.1 L418.2 276.2 L418.6 276.4 L419.0 276.7 L419.4 276.7 L419.8 276.8 L420.2 277.0 L420.5 277.2 L420.9 277.4 L421.3 277.6 L421.7 277.7 L422.1 277.1 L422.5 276.5 L422.9 276.1 L423.2 275.9 L423.6 275.9 L424.0 275.8 L424.4 275.2 L424.8 274.7 L425.2 274.5 L425.6 274.1 L426.0 273.6 L426.4 273.2 L426.7 272.7 L427.1 272.2 L427.5 271.8 L427.9 271.3 L428.3 272.6 L428.7 274.8 L429.1 277.0 L429.4 279.2 L429.8 280.8 L430.2 281.9 L430.6 283.3 L431.0 284.8 L431.4 286.3 L431.8 287.5 L432.2 287.5 L432.6 287.7 L432.9 288.0 L433.3 288.4 L433.7 288.6 L434.1 288.7 L434.5 288.7 L434.9 288.5 L435.3 288.3 L435.7 288.2 L436.0 288.1 L436.4 287.9 L436.8 287.8 L437.2 287.7 L437.6 287.5 L438.0 287.3 L438.4 287.2 L438.8 287.2 L439.1 287.2 L439.5 287.1 L439.9 287.0 L440.3 287.0 L440.7 285.7 L441.1 284.5 L441.5 283.3 L441.9 282.2 L442.2 280.8 L442.6 279.8 L443.0 279.4 L443.4 279.0 L443.8 278.5 L444.2 277.9 L444.6 277.3 L444.9 276.8 L445.3 276.6 L445.7 276.4 L446.1 276.2 L446.5 276.3 L446.9 276.3 L447.3 275.9 L447.7 275.5 L448.1 275.3 L448.4 275.4 L448.8 275.3 L449.2 275.1 L449.6 274.9 L450.0 274.6 L450.4 272.3 L450.8 270.0 L451.2 267.6 L451.5 266.3 L451.9 265.5 L452.3 264.6 L452.7 263.7 L453.1 263.2 L453.5 263.2 L453.9 263.0 L454.2 262.9 L454.6 262.9 L455.0 263.0 L455.4 262.8 L455.8 262.6 L456.2 262.6 L456.6 262.7 L457.0 262.4 L457.4 262.1 L457.7 262.1 L458.1 262.0 L458.5 261.9 L458.9 261.7 L459.3 261.7 L459.7 261.8 L460.1 262.0 L460.4 262.0 L460.8 261.7 L461.2 261.8 L461.6 261.8 L462.0 261.7 L462.4 261.8 L462.8 261.8 L463.2 261.8 L463.6 261.7 L463.9 261.6 L464.3 261.4 L464.7 260.8 L465.1 260.1 L465.5 259.9 L465.9 259.8 L466.3 259.7 L466.7 259.5 L467.0 259.1 L467.4 258.8 L467.8 258.9 L468.2 258.9 L468.6 258.7 L469.0 258.7 L469.4 258.6 L469.8 258.4 L470.1 258.3 L470.5 258.4 L470.9 258.5 L471.3 258.7 L471.7 258.2 L472.1 257.6 L472.5 257.2 L472.9 256.8 L473.2 256.6 L473.6 257.4 L474.0 258.3 L474.4 259.2 L474.8 260.0 L475.2 261.0 L475.6 262.2 L475.9 262.6 L476.3 262.3 L476.7 262.0 L477.1 261.6 L477.5 261.3 L477.9 259.7 L478.3 258.1 L478.7 256.4 L479.1 254.7 L479.4 253.0 L479.8 251.4 L480.2 249.8 L480.6 249.1 L481.0 248.6 L481.4 248.1 L481.8 247.5 L482.2 247.7 L482.5 248.5 L482.9 249.3 L483.3 250.1 L483.7 250.6 L484.1 251.9 L484.5 253.5 L484.9 255.2 L485.2 256.2 L485.6 256.1 L486.0 255.8 L486.4 255.3 L486.8 255.0 L487.2 255.0 L487.6 255.4 L488.0 255.6 L488.4 255.9 L488.7 256.1 L489.1 256.2 L489.5 256.7 L489.9 257.3 L490.3 258.0 L490.7 258.8 L491.1 259.3 L491.4 260.1 L491.8 263.0 L492.2 265.8 L492.6 268.7 L493.0 270.6 L493.4 271.4 L493.8 272.0 L494.2 272.2 L494.6 271.9 L494.9 271.9 L495.3 271.8 L495.7 271.6 L496.1 271.7 L496.5 271.7 L496.9 271.5 L497.3 271.2 L497.7 271.0 L498.0 270.8 L498.4 270.8 L498.8 270.9 L499.2 271.0 L499.6 270.7 L500.0 270.6 L500.4 270.8 L500.8 270.8 L501.1 270.7 L501.5 270.7 L501.9 270.8 L502.3 270.8 L502.7 270.8 L503.1 270.7 L503.5 270.7 L503.9 270.9 L504.2 271.0 L504.6 271.0 L505.0 271.1 L505.4 271.2 L505.8 271.3 L506.2 271.7 L506.6 272.4 L506.9 273.3 L507.3 274.4 L507.7 275.3 L508.1 276.2 L508.5 278.6 L508.9 281.1 L509.3 283.7 L509.7 286.3 L510.1 286.9 L510.4 287.2 L510.8 287.5 L511.2 287.9 L511.6 288.2 L512.0 288.0 L512.4 288.0 L512.8 288.2 L513.2 288.4 L513.5 288.7 L513.9 288.8 L514.3 288.9 L514.7 289.0 L515.1 288.8 L515.5 288.1 L515.9 287.6 L516.2 287.1 L516.6 286.3 L517.0 284.7 L517.4 283.1 L517.8 281.4 L518.2 279.4 L518.6 277.8 L519.0 277.5 L519.4 277.3 L519.7 277.2 L520.1 277.4 L520.5 277.8 L520.9 277.9 L521.3 278.0 L521.7 278.2 L522.1 278.4 L522.5 279.3 L522.8 280.4 L523.2 281.3 L523.6 282.3 L524.0 283.5 L524.4 284.1 L524.8 284.4 L525.2 284.5 L525.5 284.9 L525.9 285.4 L526.3 285.5 L526.7 285.5 L527.1 285.3 L527.5 285.1 L527.9 285.2 L528.3 285.3 L528.7 285.1 L529.0 284.9 L529.4 284.4 L529.8 284.1 L530.2 283.9 L530.6 283.4 L531.0 283.1 L531.4 283.0 L531.8 282.8 L532.1 282.6 L532.5 282.4 L532.9 282.3 L533.3 282.1 L533.7 281.9 L534.1 281.6 L534.5 281.5 L534.9 281.5 L535.2 281.5 L535.6 281.5 L536.0 281.5 L536.4 281.6 L536.8 281.8 L537.2 281.6 L537.6 281.1 L538.0 280.7 L538.3 280.6 L538.7 280.6 L539.1 280.3 L539.5 280.1 L539.9 279.8 L540.3 279.7 L540.7 279.8 L541.0 280.1 L541.4 280.4 L541.8 280.5 L542.2 280.5 L542.6 280.4 L543.0 280.5 L543.4 281.5 L543.8 283.0 L544.2 284.6 L544.5 286.1 L544.9 287.9 L545.3 289.7 L545.7 291.4 L546.1 293.1 L546.5 294.1 L546.9 294.5 L547.2 294.7 L547.6 294.8 L548.0 295.0 L548.4 295.2 L548.8 295.2 L549.2 295.2 L549.6 295.2 L550.0 295.5 L550.4 295.7 L550.7 295.8 L551.1 295.9 L551.5 296.0 L551.9 296.1 L552.3 296.3 L552.7 296.2 L553.1 295.7 L553.5 295.5 L553.8 295.2 L554.2 294.8 L554.6 294.6 L555.0 294.5 L555.4 294.2 L555.8 293.8 L556.2 293.7 L556.5 293.7 L556.9 293.6 L557.3 293.7 L557.7 293.9 L558.1 294.0 L558.5 294.1 L558.9 294.1 L559.3 294.1 L559.7 294.2 L560.0 294.2 L560.4 294.4 L560.8 294.6 L561.2 294.7 L561.6 294.8 L562.0 295.1 L562.4 295.3 L562.8 295.0 L563.1 294.7 L563.5 294.5 L563.9 294.3 L564.3 294.3 L564.7 294.3 L565.1 294.1 L565.5 293.9 L565.9 294.1 L566.2 294.6 L566.6 294.8 L567.0 294.8 L567.4 295.1 L567.8 295.6 L568.2 295.8 L568.6 295.9 L569.0 296.0 L569.3 295.9 L569.7 295.8 L570.1 295.4 L570.5 294.7 L570.9 294.1 L571.3 293.6 L571.7 293.2 L572.0 293.4 L572.4 293.4 L572.8 293.3 L573.2 293.1 L573.6 293.2 L574.0 293.5 L574.4 293.4 L574.8 293.3 L575.2 293.3 L575.5 293.3 L575.9 293.2 L576.3 293.2 L576.7 293.1 L577.1 293.2 L577.5 293.5 L577.9 293.5 L578.2 293.5 L578.6 293.5 L579.0 293.3 L579.4 293.3 L579.8 293.5 L580.2 293.6 L580.6 293.6 L581.0 293.4 L581.4 293.4 L581.7 293.6 L582.1 293.7 L582.5 293.6 L582.9 293.6 L583.3 293.6 L583.7 293.4 L584.1 293.3 L584.5 293.2 L584.8 293.2 L585.2 293.1 L585.6 293.0 L586.0 292.9 L586.4 292.7 L586.8 292.8 L587.2 292.9 L587.5 292.7 L587.9 292.7 L588.3 292.9 L588.7 292.9 L589.1 292.8 L589.5 292.7 L589.9 293.0 L590.3 293.3 L590.7 293.4 L591.0 293.5 L591.4 293.6 L591.8 293.5 L592.2 293.7 L592.6 293.7 L593.0 293.4 L593.4 293.3 L593.8 293.4 L594.1 293.3 L594.5 293.2 L594.9 293.2 L595.3 293.1 L595.7 293.0 L596.1 293.0 L596.5 292.9 L596.9 293.0 L597.2 293.0 L597.6 292.8 L598.0 292.5 L598.4 292.5 L598.8 292.7 L599.2 292.7 L599.6 292.4 L600.0 292.3 L600.3 292.4 L600.7 292.4 L601.1 292.1 L601.5 291.9 L601.9 292.1 L602.3 292.2 L602.7 292.1 L603.1 292.0 L603.4 292.0 L603.8 292.0 L604.2 291.8 L604.6 291.8 L605.0 291.8 L605.4 291.6 L605.8 291.4 L606.1 291.5 L606.5 291.7 L606.9 291.7 L607.3 291.7 L607.7 291.7 L608.1 291.6 L608.5 291.7 L608.9 291.8 L609.2 291.8 L609.6 291.8 L610.0 291.8 L610.4 291.9 L610.8 291.8 L611.2 291.5 L611.6 291.5 L612.0 291.5 L612.4 291.3 L612.7 291.1 L613.1 291.0 L613.5 290.8 L613.9 290.7 L614.3 290.7 L614.7 290.9 L615.1 290.9 L615.5 291.0 L615.8 291.1 L616.2 291.2 L616.6 291.3 L617.0 291.4 L617.4 291.7 L617.8 292.1 L618.2 292.5 L618.6 292.6 L618.9 292.4 L619.3 292.1 L619.7 292.1 L620.1 292.2 L620.5 292.2 L620.9 292.0 L621.3 291.9 L621.6 291.8 L622.0 291.6 L622.4 291.4 L622.8 291.4 L623.2 291.2 L623.6 291.2 L624.0 291.4 L624.4 291.4 L624.8 291.3 L625.1 291.3 L625.5 291.4 L625.9 291.2 L626.3 291.1 L626.7 291.3 L627.1 291.2 L627.5 291.0 L627.9 290.9 L628.2 290.9 L628.6 291.2 L629.0 291.4 L629.4 291.6 L629.8 291.7 L630.2 291.8 L630.6 291.9 L631.0 292.1 L631.3 292.2 L631.7 292.0 L632.1 292.1 L632.5 292.4 L632.9 292.5 L633.3 292.4 L633.7 292.1 L634.1 291.8 L634.4 291.4 L634.8 291.3 L635.2 291.4 L635.6 291.2 L636.0 291.2 L636.4 290.9 L636.8 290.8 L637.1 290.8 L637.5 290.4 L637.9 289.9 L638.3 289.6 L638.7 289.4 L639.1 289.3 L639.5 289.4 L639.9 289.4 L640.2 289.3 L640.6 289.3 L641.0 289.0 L641.4 288.7 L641.8 288.7 L642.2 288.9 L642.6 289.0 L643.0 289.0 L643.4 288.8 L643.7 288.7 L644.1 288.7 L644.5 288.6 L644.9 288.4 L645.3 288.2 L645.7 288.3 L646.1 288.5 L646.5 288.3 L646.8 288.0 L647.2 287.9 L647.6 288.0 L648.0 288.1"/>
<path class="curve" stroke="#008000" d="M90.8 258.5 L91.2 258.4 L91.5 258.0 L91.9 257.8 L92.3 258.0 L92.7 258.2 L93.1 258.3 L93.5 258.3 L93.9 258.4 L94.3 258.3 L94.7 258.4 L95.0 258.9 L95.4 259.3 L95.8 259.3 L96.2 259.1 L96.6 258.8 L97.0 258.7 L97.4 258.8 L97.8 259.1 L98.1 258.9 L98.5 258.8 L98.9 259.3 L99.3 259.7 L99.7 259.5 L100.1 259.2 L100.5 259.3 L100.8 259.6 L101.2 259.5 L101.6 259.4 L102.0 259.6 L102.4 260.1 L102.8 260.2 L103.2 259.7 L103.6 259.5 L104.0 259.4 L104.3 259.2 L104.7 259.4 L105.1 259.8 L105.5 260.1 L105.9 259.9 L106.3 259.7 L106.7 259.9 L107.0 259.8 L107.4 259.5 L107.8 259.6 L108.2 259.7 L108.6 259.7 L109.0 259.7 L109.4 259.5 L109.8 259.8 L110.2 260.2 L110.5 260.2 L110.9 260.2 L111.3 260.1 L111.7 259.8 L112.1 259.4 L112.5 259.1 L112.9 258.8 L113.2 258.5 L113.6 258.6 L114.0 259.0 L114.4 259.2 L114.8 259.0 L115.2 259.0 L115.6 258.7 L116.0 258.5 L116.3 258.5 L116.7 258.3 L117.1 258.6 L117.5 258.8 L117.9 258.5 L118.3 258.4 L118.7 258.5 L119.1 258.7 L119.5 258.6 L119.8 258.4 L120.2 258.4 L120.6 258.0 L121.0 257.9 L121.4 258.0 L121.8 257.7 L122.2 257.6 L122.6 257.5 L122.9 257.2 L123.3 257.2 L123.7 257.2 L124.1 256.8 L124.5 256.1 L124.9 255.6 L125.3 255.6 L125.7 255.8 L126.0 255.6 L126.4 255.6 L126.8 255.7 L127.2 255.6 L127.6 255.7 L128.0 255.7 L128.4 255.5 L128.8 255.7 L129.1 256.1 L129.5 255.9 L129.9 255.3 L130.3 255.4 L130.7 255.7 L131.1 255.8 L131.5 255.5 L131.8 255.2 L132.2 255.2 L132.6 255.4 L133.0 255.4 L133.4 255.1 L133.8 255.0 L134.2 255.0 L134.6 255.0 L134.9 254.9 L135.3 254.9 L135.7 255.0 L136.1 254.7 L136.5 254.5 L136.9 254.6 L137.3 254.4 L137.7 254.2 L138.1 253.9 L138.4 253.6 L138.8 253.8 L139.2 253.9 L139.6 253.7 L140.0 253.5 L140.4 253.2 L140.8 253.0 L141.2 253.2 L141.5 253.5 L141.9 253.2 L142.3 252.8 L142.7 252.6 L143.1 252.4 L143.5 252.4 L143.9 252.4 L144.2 252.1 L144.6 251.7 L145.0 251.8 L145.4 252.0 L145.8 252.2 L146.2 252.2 L146.6 252.0 L147.0 252.0 L147.3 252.0 L147.7 251.9 L148.1 251.9 L148.5 251.7 L148.9 251.4 L149.3 251.3 L149.7 251.1 L150.1 251.0 L150.4 251.0 L150.8 250.9 L151.2 250.6 L151.6 250.5 L152.0 250.6 L152.4 250.5 L152.8 250.2 L153.2 250.1 L153.6 249.9 L153.9 250.0 L154.3 250.6 L154.7 250.3 L155.1 250.1 L155.5 250.4 L155.9 250.4 L156.3 250.6 L156.7 250.8 L157.0 250.6 L157.4 250.6 L157.8 250.7 L158.2 250.7 L158.6 250.5 L159.0 250.7 L159.4 251.2 L159.8 251.6 L160.1 251.7 L160.5 251.8 L160.9 251.5 L161.3 251.1 L161.7 250.8 L162.1 250.5 L162.5 250.5 L162.9 250.7 L163.2 251.0 L163.6 251.0 L164.0 250.7 L164.4 250.5 L164.8 250.4 L165.2 250.6 L165.6 250.9 L165.9 250.8 L166.3 250.9 L166.7 251.3 L167.1 251.3 L167.5 250.9 L167.9 250.6 L168.3 250.7 L168.7 250.8 L169.1 250.9 L169.4 251.0 L169.8 251.2 L170.2 251.3 L170.6 251.2 L171.0 250.9 L171.4 250.8 L171.8 250.4 L172.2 250.3 L172.5 250.3 L172.9 250.1 L173.3 249.8 L173.7 249.4 L174.1 249.1 L174.5 249.0 L174.9 248.6 L175.2 248.3 L175.6 247.9 L176.0 247.5 L176.4 247.3 L176.8 247.3 L177.2 247.4 L177.6 247.3 L178.0 246.9 L178.4 246.2 L178.7 246.2 L179.1 246.4 L179.5 246.3 L179.9 246.3 L180.3 246.0 L180.7 245.7 L181.1 245.9 L181.4 246.0 L181.8 245.6 L182.2 245.0 L182.6 244.9 L183.0 244.8 L183.4 244.6 L183.8 245.0 L184.2 245.6 L184.6 245.5 L184.9 245.3 L185.3 245.4 L185.7 245.4 L186.1 245.4 L186.5 245.4 L186.9 245.3 L187.3 245.1 L187.7 244.9 L188.0 244.3 L188.4 244.5 L188.8 244.9 L189.2 244.9 L189.6 245.0 L190.0 245.1 L190.4 245.6 L190.8 246.2 L191.1 246.2 L191.5 245.9 L191.9 245.8 L192.3 245.5 L192.7 245.3 L193.1 245.3 L193.5 245.0 L193.9 244.5 L194.2 244.4 L194.6 244.1 L195.0 243.8 L195.4 243.8 L195.8 243.7 L196.2 243.7 L196.6 243.4 L196.9 242.9 L197.3 242.6 L197.7 242.0 L198.1 241.4 L198.5 241.1 L198.9 240.9 L199.3 240.6 L199.7 240.4 L200.1 240.0 L200.4 240.1 L200.8 240.6 L201.2 240.7 L201.6 240.2 L202.0 240.0 L202.4 240.2 L202.8 240.5 L203.2 240.4 L203.5 239.9 L203.9 239.6 L204.3 239.6 L204.7 239.4 L205.1 239.5 L205.5 239.7 L205.9 239.8 L206.2 240.1 L206.6 239.9 L207.0 239.4 L207.4 239.1 L207.8 239.4 L208.2 239.5 L208.6 239.1 L209.0 238.8 L209.4 239.4 L209.7 240.6 L210.1 241.6 L210.5 242.9 L210.9 244.2 L211.3 246.3 L211.7 248.4 L212.1 250.8 L212.4 252.9 L212.8 255.0 L213.2 257.5 L213.6 259.9 L214.0 262.4 L214.4 265.2 L214.8 268.1 L215.2 270.6 L215.6 273.0 L215.9 275.3 L216.3 276.9 L216.7 273.9 L217.1 271.6 L217.5 269.2 L217.9 266.5 L218.3 263.9 L218.7 261.8 L219.0 259.6 L219.4 258.0 L219.8 256.5 L220.2 254.0 L220.6 251.8 L221.0 250.9 L221.4 251.0 L221.8 251.0 L222.1 250.8 L222.5 250.5 L222.9 251.1 L223.3 252.3 L223.7 253.4 L224.1 253.7 L224.5 253.9 L224.8 254.3 L225.2 254.3 L225.6 254.5 L226.0 254.5 L226.4 254.2 L226.8 254.3 L227.2 254.3 L227.6 254.2 L228.0 254.0 L228.3 253.5 L228.7 252.9 L229.1 252.8 L229.5 253.0 L229.9 253.2 L230.3 253.3 L230.7 253.3 L231.1 252.9 L231.4 252.8 L231.8 252.9 L232.2 252.9 L232.6 252.8 L233.0 252.8 L233.4 252.9 L233.8 252.8 L234.2 252.7 L234.5 252.6 L234.9 252.2 L235.3 251.7 L235.7 251.4 L236.1 251.2 L236.5 251.1 L236.9 250.8 L237.2 250.0 L237.6 249.3 L238.0 249.1 L238.4 248.7 L238.8 247.8 L239.2 247.0 L239.6 246.5 L240.0 247.7 L240.3 249.2 L240.7 250.6 L241.1 249.9 L241.5 248.9 L241.9 248.1 L242.3 246.8 L242.7 244.1 L243.1 240.2 L243.5 236.5 L243.8 232.7 L244.2 228.8 L244.6 226.6 L245.0 224.1 L245.4 221.9 L245.8 220.1 L246.2 220.1 L246.6 219.8 L246.9 219.2 L247.3 219.0 L247.7 219.1 L248.1 219.0 L248.5 218.6 L248.9 218.4 L249.3 218.4 L249.7 218.6 L250.0 218.9 L250.4 219.4 L250.8 219.8 L251.2 219.9 L251.6 220.0 L252.0 219.7 L252.4 219.6 L252.8 219.5 L253.1 219.6 L253.5 219.8 L253.9 219.4 L254.3 218.9 L254.7 219.0 L255.1 218.9 L255.5 218.7 L255.8 218.9 L256.2 219.2 L256.6 219.1 L257.0 218.6 L257.4 218.4 L257.8 218.1 L258.2 217.5 L258.6 217.6 L259.0 218.2 L259.3 218.4 L259.7 218.5 L260.1 219.2 L260.5 220.0 L260.9 220.6 L261.3 220.5 L261.7 220.2 L262.1 220.3 L262.4 220.0 L262.8 219.6 L263.2 219.7 L263.6 218.1 L264.0 215.8 L264.4 213.7 L264.8 211.6 L265.1 208.7 L265.5 204.8 L265.9 201.2 L266.3 198.3 L266.7 197.7 L267.1 197.2 L267.5 196.5 L267.9 195.7 L268.2 195.0 L268.6 194.9 L269.0 195.4 L269.4 195.9 L269.8 195.7 L270.2 195.6 L270.6 195.6 L271.0 196.0 L271.4 196.5 L271.7 196.6 L272.1 196.3 L272.5 196.3 L272.9 196.3 L273.3 196.3 L273.7 196.4 L274.1 196.5 L274.5 196.9 L274.8 197.1 L275.2 197.1 L275.6 196.9 L276.0 196.7 L276.4 196.8 L276.8 197.1 L277.2 197.4 L277.6 197.6 L277.9 197.5 L278.3 197.2 L278.7 197.1 L279.1 197.6 L279.5 197.9 L279.9 197.7 L280.3 198.1 L280.6 198.5 L281.0 198.6 L281.4 199.0 L281.8 199.0 L282.2 199.1 L282.6 199.6 L283.0 199.8 L283.4 199.8 L283.8 200.0 L284.1 200.1 L284.5 200.5 L284.9 200.5 L285.3 200.4 L285.7 200.6 L286.1 200.8 L286.5 200.9 L286.9 200.8 L287.2 201.0 L287.6 200.9 L288.0 200.8 L288.4 200.9 L288.8 200.9 L289.2 201.1 L289.6 201.6 L290.0 201.8 L290.3 202.0 L290.7 202.0 L291.1 201.7 L291.5 201.6 L291.9 202.0 L292.3 202.5 L292.7 202.6 L293.1 202.8 L293.4 202.9 L293.8 202.7 L294.2 202.8 L294.6 203.1 L295.0 203.3 L295.4 202.6 L295.8 202.0 L296.1 201.9 L296.5 201.9 L296.9 201.5 L297.3 200.9 L297.7 200.8 L298.1 201.4 L298.5 202.1 L298.9 202.9 L299.2 203.2 L299.6 203.0 L300.0 203.2 L300.4 203.7 L300.8 204.2 L301.2 204.8 L301.6 205.3 L302.0 205.9 L302.4 206.4 L302.7 206.5 L303.1 206.6 L303.5 206.9 L303.9 207.4 L304.3 207.8 L304.7 208.2 L305.1 208.9 L305.5 209.3 L305.8 209.4 L306.2 209.4 L306.6 209.6 L307.0 210.2 L307.4 210.8 L307.8 210.3 L308.2 210.2 L308.6 210.2 L308.9 209.8 L309.3 209.4 L309.7 209.1 L310.1 208.7 L310.5 208.7 L310.9 208.4 L311.3 207.3 L311.6 206.5 L312.0 204.8 L312.4 202.9 L312.8 200.8 L313.2 198.3 L313.6 197.8 L314.0 198.3 L314.4 199.3 L314.8 199.9 L315.1 200.4 L315.5 201.2 L315.9 202.0 L316.3 202.1 L316.7 202.1 L317.1 202.2 L317.5 202.3 L317.9 202.5 L318.2 203.1 L318.6 203.6 L319.0 203.7 L319.4 203.0 L319.8 202.7 L320.2 202.4 L320.6 202.0 L321.0 201.8 L321.3 201.8 L321.7 202.0 L322.1 202.0 L322.5 201.5 L322.9 201.4 L323.3 201.6 L323.7 201.6 L324.1 201.4 L324.4 201.2 L324.8 201.0 L325.2 201.3 L325.6 201.6 L326.0 201.5 L326.4 200.7 L326.8 197.9 L327.1 195.3 L327.5 192.6 L327.9 189.7 L328.3 186.9 L328.7 184.5 L329.1 185.5 L329.5 186.4 L329.9 187.4 L330.2 188.5 L330.6 189.4 L331.0 189.3 L331.4 188.9 L331.8 188.7 L332.2 188.7 L332.6 188.8 L333.0 188.7 L333.4 188.3 L333.7 188.0 L334.1 188.0 L334.5 187.8 L334.9 187.4 L335.3 186.8 L335.7 186.3 L336.1 185.8 L336.5 186.4 L336.8 188.3 L337.2 189.7 L337.6 190.9 L338.0 192.2 L338.4 193.9 L338.8 195.6 L339.2 195.6 L339.6 195.2 L339.9 195.1 L340.3 195.3 L340.7 195.2 L341.1 195.2 L341.5 195.6 L341.9 195.7 L342.3 195.5 L342.6 196.1 L343.0 197.2 L343.4 197.9 L343.8 198.7 L344.2 199.7 L344.6 202.4 L345.0 205.0 L345.4 208.0 L345.8 210.8 L346.1 213.7 L346.5 215.0 L346.9 215.3 L347.3 215.7 L347.7 216.1 L348.1 216.4 L348.5 216.5 L348.9 216.7 L349.2 216.8 L349.6 216.6 L350.0 216.8 L350.4 217.2 L350.8 217.4 L351.2 217.9 L351.6 218.2 L351.9 217.9 L352.3 217.7 L352.7 217.6 L353.1 217.2 L353.5 216.7 L353.9 216.5 L354.3 215.9 L354.7 215.1 L355.1 215.0 L355.4 215.1 L355.8 215.0 L356.2 215.3 L356.6 215.6 L357.0 215.6 L357.4 215.5 L357.8 216.2 L358.2 217.8 L358.5 219.2 L358.9 219.9 L359.3 220.7 L359.7 222.2 L360.1 222.4 L360.5 221.9 L360.9 221.3 L361.2 221.1 L361.6 221.0 L362.0 220.5 L362.4 219.9 L362.8 220.7 L363.2 222.1 L363.6 223.5 L364.0 224.5 L364.4 225.8 L364.7 227.3 L365.1 228.7 L365.5 230.2 L365.9 231.9 L366.3 233.5 L366.7 233.1 L367.1 232.4 L367.4 232.1 L367.8 231.8 L368.2 231.4 L368.6 231.0 L369.0 230.9 L369.4 230.9 L369.8 231.5 L370.2 231.8 L370.6 231.9 L370.9 232.3 L371.3 232.5 L371.7 232.3 L372.1 232.2 L372.5 232.4 L372.9 232.3 L373.3 232.3 L373.7 232.4 L374.0 232.2 L374.4 232.0 L374.8 232.1 L375.2 232.4 L375.6 232.5 L376.0 232.5 L376.4 232.3 L376.8 232.1 L377.1 231.9 L377.5 232.0 L377.9 232.2 L378.3 231.7 L378.7 231.6 L379.1 232.4 L379.5 233.2 L379.9 233.4 L380.2 233.9 L380.6 234.5 L381.0 235.0 L381.4 235.9 L381.8 236.4 L382.2 236.3 L382.6 236.0 L382.9 235.5 L383.3 235.2 L383.7 235.2 L384.1 235.0 L384.5 234.8 L384.9 234.5 L385.3 234.0 L385.7 233.6 L386.1 233.6 L386.4 234.0 L386.8 234.6 L387.2 234.8 L387.6 235.0 L388.0 235.6 L388.4 236.0 L388.8 236.1 L389.2 236.6 L389.5 236.8 L389.9 236.6 L390.3 236.3 L390.7 235.9 L391.1 235.6 L391.5 235.1 L391.9 234.6 L392.2 234.2 L392.6 234.2 L393.0 234.9 L393.4 235.7 L393.8 236.0 L394.2 236.1 L394.6 236.5 L395.0 236.9 L395.4 236.9 L395.7 236.9 L396.1 236.8 L396.5 236.7 L396.9 236.4 L397.3 236.5 L397.7 236.2 L398.1 235.4 L398.4 234.9 L398.8 234.5 L399.2 233.8 L399.6 233.0 L400.0 232.5 L400.4 232.2 L400.8 231.5 L401.2 230.0 L401.6 228.5 L401.9 227.0 L402.3 225.7 L402.7 224.5 L403.1 222.9 L403.5 221.2 L403.9 219.4 L404.3 218.3 L404.7 218.6 L405.0 218.4 L405.4 218.3 L405.8 218.3 L406.2 218.0 L406.6 217.7 L407.0 217.6 L407.4 217.4 L407.8 217.1 L408.1 217.1 L408.5 217.3 L408.9 216.8 L409.3 215.8 L409.7 215.7 L410.1 216.1 L410.5 216.3 L410.9 216.4 L411.2 216.4 L411.6 216.3 L412.0 216.6 L412.4 216.8 L412.8 216.8 L413.2 216.9 L413.6 216.9 L413.9 217.1 L414.3 217.6 L414.7 218.4 L415.1 218.9 L415.5 219.3 L415.9 220.4 L416.3 221.2 L416.7 221.7 L417.1 221.3 L417.4 220.9 L417.8 220.4 L418.2 220.1 L418.6 220.0 L419.0 219.8 L419.4 219.7 L419.8 219.5 L420.2 219.0 L420.5 219.0 L420.9 219.5 L421.3 220.0 L421.7 220.1 L422.1 220.0 L422.5 220.1 L422.9 220.2 L423.2 220.5 L423.6 220.4 L424.0 220.0 L424.4 219.2 L424.8 218.5 L425.2 218.0 L425.6 216.8 L426.0 215.7 L426.4 215.6 L426.7 216.6 L427.1 217.3 L427.5 217.8 L427.9 218.7 L428.3 218.9 L428.7 218.2 L429.1 217.6 L429.4 217.4 L429.8 217.5 L430.2 217.7 L430.6 217.5 L431.0 217.4 L431.4 217.4 L431.8 217.2 L432.2 217.1 L432.6 216.7 L432.9 216.6 L433.3 216.7 L433.7 216.8 L434.1 217.0 L434.5 217.2 L434.9 217.0 L435.3 216.6 L435.7 216.7 L436.0 216.9 L436.4 216.7 L436.8 216.5 L437.2 216.2 L437.6 215.9 L438.0 215.6 L438.4 214.9 L438.8 214.4 L439.1 214.5 L439.5 212.7 L439.9 210.4 L440.3 208.2 L440.7 206.2 L441.1 205.8 L441.5 205.6 L441.9 205.1 L442.2 204.9 L442.6 204.9 L443.0 204.9 L443.4 205.0 L443.8 205.3 L444.2 205.9 L444.6 207.2 L444.9 209.0 L445.3 211.0 L445.7 213.0 L446.1 214.6 L446.5 214.8 L446.9 214.9 L447.3 214.9 L447.7 215.0 L448.1 214.9 L448.4 214.9 L448.8 214.8 L449.2 214.6 L449.6 214.0 L450.0 213.6 L450.4 213.2 L450.8 213.3 L451.2 213.5 L451.5 213.3 L451.9 211.9 L452.3 209.8 L452.7 208.4 L453.1 207.2 L453.5 206.2 L453.9 205.9 L454.2 205.5 L454.6 205.6 L455.0 205.8 L455.4 205.6 L455.8 205.2 L456.2 205.2 L456.6 205.4 L457.0 206.0 L457.4 206.1 L457.7 206.1 L458.1 206.2 L458.5 206.3 L458.9 206.8 L459.3 207.3 L459.7 208.0 L460.1 209.1 L460.4 210.3 L460.8 211.4 L461.2 212.9 L461.6 213.5 L462.0 213.7 L462.4 214.4 L462.8 214.9 L463.2 215.0 L463.6 215.6 L463.9 215.9 L464.3 216.0 L464.7 216.1 L465.1 215.9 L465.5 215.7 L465.9 215.8 L466.3 216.3 L466.7 216.6 L467.0 216.6 L467.4 216.6 L467.8 217.0 L468.2 217.4 L468.6 217.4 L469.0 217.3 L469.4 217.6 L469.8 218.0 L470.1 217.9 L470.5 218.0 L470.9 218.5 L471.3 219.9 L471.7 221.2 L472.1 222.5 L472.5 224.1 L472.9 224.7 L473.2 225.1 L473.6 225.8 L474.0 226.4 L474.4 226.1 L474.8 224.5 L475.2 222.5 L475.6 220.7 L475.9 219.7 L476.3 219.2 L476.7 219.0 L477.1 218.9 L477.5 218.7 L477.9 218.2 L478.3 218.9 L478.7 220.0 L479.1 220.8 L479.4 221.9 L479.8 223.2 L480.2 225.3 L480.6 227.8 L481.0 229.8 L481.4 231.2 L481.8 231.2 L482.2 231.2 L482.5 231.0 L482.9 229.1 L483.3 227.4 L483.7 225.8 L484.1 224.2 L484.5 222.5 L484.9 221.0 L485.2 219.6 L485.6 218.0 L486.0 216.6 L486.4 215.6 L486.8 214.6 L487.2 213.6 L487.6 212.8 L488.0 212.0 L488.4 213.4 L488.7 214.8 L489.1 216.4 L489.5 218.2 L489.9 219.9 L490.3 218.9 L490.7 217.2 L491.1 215.4 L491.4 213.1 L491.8 211.0 L492.2 209.7 L492.6 208.1 L493.0 205.7 L493.4 203.8 L493.8 203.6 L494.2 203.7 L494.6 203.8 L494.9 203.6 L495.3 203.1 L495.7 203.1 L496.1 203.5 L496.5 203.4 L496.9 203.5 L497.3 203.7 L497.7 203.8 L498.0 204.0 L498.4 204.0 L498.8 203.8 L499.2 203.7 L499.6 203.6 L500.0 203.3 L500.4 202.9 L500.8 202.8 L501.1 202.6 L501.5 202.6 L501.9 202.7 L502.3 202.6 L502.7 202.8 L503.1 203.5 L503.5 204.2 L503.9 204.5 L504.2 204.5 L504.6 205.5 L505.0 206.8 L505.4 207.6 L505.8 208.2 L506.2 208.0 L506.6 208.2 L506.9 209.1 L507.3 209.6 L507.7 211.3 L508.1 214.2 L508.5 217.5 L508.9 220.8 L509.3 223.7 L509.7 225.6 L510.1 227.7 L510.4 229.3 L510.8 229.3 L511.2 229.0 L511.6 228.4 L512.0 228.0 L512.4 227.6 L512.8 226.9 L513.2 226.2 L513.5 225.5 L513.9 225.4 L514.3 225.4 L514.7 225.3 L515.1 225.4 L515.5 225.6 L515.9 225.4 L516.2 225.3 L516.6 223.5 L517.0 221.7 L517.4 219.8 L517.8 217.2 L518.2 214.5 L518.6 212.0 L519.0 209.3 L519.4 207.2 L519.7 206.6 L520.1 206.3 L520.5 206.1 L520.9 205.8 L521.3 206.4 L521.7 207.2 L522.1 207.4 L522.5 207.4 L522.8 207.5 L523.2 208.1 L523.6 208.6 L524.0 208.8 L524.4 209.2 L524.8 209.5 L525.2 209.3 L525.5 209.2 L525.9 209.5 L526.3 209.8 L526.7 210.0 L527.1 210.0 L527.5 210.1 L527.9 210.1 L528.3 209.6 L528.7 209.3 L529.0 209.6 L529.4 209.6 L529.8 209.5 L530.2 209.5 L530.6 209.3 L531.0 209.4 L531.4 209.8 L531.8 210.0 L532.1 210.1 L532.5 210.1 L532.9 210.2 L533.3 210.3 L533.7 210.6 L534.1 210.9 L534.5 210.9 L534.9 210.8 L535.2 211.0 L535.6 211.3 L536.0 211.3 L536.4 211.1 L536.8 210.7 L537.2 210.7 L537.6 211.0 L538.0 210.6 L538.3 210.2 L538.7 210.1 L539.1 210.1 L539.5 210.4 L539.9 210.5 L540.3 210.3 L540.7 210.2 L541.0 210.3 L541.4 210.8 L541.8 211.3 L542.2 211.6 L542.6 211.1 L543.0 210.6 L543.4 210.7 L543.8 212.7 L544.2 215.3 L544.5 217.7 L544.9 220.9 L545.3 224.4 L545.7 227.2 L546.1 229.0 L546.5 229.3 L546.9 228.4 L547.2 228.3 L547.6 228.5 L548.0 228.0 L548.4 227.3 L548.8 227.3 L549.2 227.5 L549.6 227.5 L550.0 227.2 L550.4 227.0 L550.7 227.0 L551.1 227.0 L551.5 227.2 L551.9 227.1 L552.3 226.6 L552.7 226.6 L553.1 227.1 L553.5 227.2 L553.8 227.0 L554.2 227.1 L554.6 227.3 L555.0 227.4 L555.4 227.5 L555.8 227.8 L556.2 228.1 L556.5 228.3 L556.9 228.3 L557.3 228.1 L557.7 227.9 L558.1 228.0 L558.5 228.3 L558.9 228.4 L559.3 228.5 L559.7 228.5 L560.0 228.5 L560.4 228.4 L560.8 228.2 L561.2 228.2 L561.6 228.5 L562.0 228.7 L562.4 228.6 L562.8 228.6 L563.1 228.8 L563.5 229.0 L563.9 229.1 L564.3 229.0 L564.7 229.0 L565.1 229.2 L565.5 229.3 L565.9 229.2 L566.2 229.0 L566.6 228.8 L567.0 228.7 L567.4 228.8 L567.8 228.8 L568.2 228.7 L568.6 229.2 L569.0 229.7 L569.3 230.4 L569.7 230.8 L570.1 231.1 L570.5 231.6 L570.9 232.1 L571.3 232.3 L571.7 232.7 L572.0 232.9 L572.4 232.5 L572.8 231.9 L573.2 232.1 L573.6 232.5 L574.0 232.5 L574.4 232.4 L574.8 232.0 L575.2 231.6 L575.5 231.6 L575.9 231.9 L576.3 232.1 L576.7 232.0 L577.1 232.2 L577.5 232.3 L577.9 232.3 L578.2 232.1 L578.6 232.3 L579.0 232.4 L579.4 232.1 L579.8 232.3 L580.2 232.6 L580.6 232.6 L581.0 232.2 L581.4 231.6 L581.7 231.6 L582.1 231.7 L582.5 231.7 L582.9 231.8 L583.3 231.7 L583.7 231.6 L584.1 231.4 L584.5 231.3 L584.8 231.3 L585.2 231.2 L585.6 230.8 L586.0 230.8 L586.4 231.0 L586.8 231.5 L587.2 232.1 L587.5 232.6 L587.9 232.5 L588.3 232.0 L588.7 231.7 L589.1 231.9 L589.5 231.9 L589.9 232.0 L590.3 232.3 L590.7 232.5 L591.0 232.1 L591.4 232.2 L591.8 232.4 L592.2 232.0 L592.6 231.9 L593.0 232.2 L593.4 231.8 L593.8 231.7 L594.1 232.2 L594.5 232.8 L594.9 233.1 L595.3 233.2 L595.7 233.2 L596.1 232.8 L596.5 232.4 L596.9 232.4 L597.2 232.5 L597.6 232.2 L598.0 232.1 L598.4 232.4 L598.8 232.4 L599.2 231.9 L599.6 231.3 L600.0 231.2 L600.3 231.3 L600.7 231.4 L601.1 231.3 L601.5 231.4 L601.9 231.4 L602.3 231.2 L602.7 231.2 L603.1 231.2 L603.4 231.2 L603.8 231.6 L604.2 232.1 L604.6 232.2 L605.0 232.4 L605.4 232.3 L605.8 232.2 L606.1 232.0 L606.5 231.8 L606.9 231.8 L607.3 231.4 L607.7 231.4 L608.1 232.3 L608.5 233.4 L608.9 234.7 L609.2 235.7 L609.6 235.9 L610.0 236.3 L610.4 237.0 L610.8 237.3 L611.2 237.4 L611.6 237.2 L612.0 236.8 L612.4 236.3 L612.7 235.5 L613.1 234.9 L613.5 234.7 L613.9 234.1 L614.3 233.0 L614.7 232.3 L615.1 231.8 L615.5 231.4 L615.8 231.1 L616.2 231.3 L616.6 231.8 L617.0 232.1 L617.4 232.0 L617.8 231.9 L618.2 231.9 L618.6 231.9 L618.9 231.8 L619.3 231.7 L619.7 231.8 L620.1 232.1 L620.5 232.3 L620.9 232.2 L621.3 232.0 L621.6 231.9 L622.0 231.6 L622.4 231.0 L622.8 231.1 L623.2 231.4 L623.6 231.4 L624.0 231.7 L624.4 231.7 L624.8 231.5 L625.1 231.4 L625.5 231.3 L625.9 231.3 L626.3 231.3 L626.7 231.4 L627.1 231.7 L627.5 231.8 L627.9 231.8 L628.2 231.8 L628.6 231.6 L629.0 231.5 L629.4 231.5 L629.8 231.6 L630.2 231.9 L630.6 232.0 L631.0 231.8 L631.3 231.8 L631.7 232.0 L632.1 232.1 L632.5 232.0 L632.9 231.8 L633.3 231.8 L633.7 232.0 L634.1 232.1 L634.4 232.0 L634.8 232.1 L635.2 232.3 L635.6 232.2 L636.0 232.0 L636.4 232.2 L636.8 232.3 L637.1 232.3 L637.5 232.1 L637.9 231.9 L638.3 231.9 L638.7 231.9 L639.1 231.7 L639.5 231.4 L639.9 231.5 L640.2 231.8 L640.6 231.8 L641.0 231.6 L641.4 231.3 L641.8 230.9 L642.2 230.6 L642.6 230.6 L643.0 231.2 L643.4 231.9 L643.7 231.8 L644.1 231.3 L644.5 231.4 L644.9 231.5 L645.3 230.9 L645.7 230.6 L646.1 230.9 L646.5 230.8 L646.8 230.7 L647.2 231.0 L647.6 230.9 L648.0 230.6"/>
<g class="grid">
<line x1="90.50" y1="90.5" x2="648.00" y2="90.5"/>
<line x1="90.50" y1="147.5" x2="648.00" y2="147.5"/>
<line x1="90.50" y1="205.5" x2="648.00" y2="205.5"/>
<line x1="90.50" y1="262.5" x2="648.00" y2="262.5"/>
<line x1="90.50" y1="319.5" x2="648.00" y2="319.5"/>
<line x1="90.50" y1="377.5" x2="648.00" y2="377.5"/>
<line x1="90.50" y1="434.5" x2="648.00" y2="434.5"/>
<line x1="160.5" y1="491.40" x2="160.5" y2="32.40"/>
<line x1="230.5" y1="491.40" x2="230.5" y2="32.40"/>
<line x1="299.5" y1="491.40" x2="299.5" y2="32.40"/>
<line x1="369.5" y1="491.40" x2="369.5" y2="32.40"/>
<line x1="439.5" y1="491.40" x2="439.5" y2="32.40"/>
<line x1="509.5" y1="491.40" x2="509.5" y2="32.40"/>
<line x1="578.5" y1="491.40" x2="578.5" y2="32.40"/>
</g>
<g class="ticks">
<line x1="91" y1="32.5" x2="96" y2="32.5"/>
<line x1="643.5" y1="32.5" x2="648" y2="32.5"/>
<line x1="91" y1="90.5" x2="96" y2="90.5"/>
<line x1="643.5" y1="90.5" x2="648" y2="90.5"/>
<line x1="91" y1="147.5" x2="96" y2="147.5"/>
<line x1="643.5" y1="147.5" x2="648" y2="147.5"/>
<line x1="91" y1="205.5" x2="96" y2="205.5"/>
<line x1="643.5" y1="205.5" x2="648" y2="205.5"/>
<line x1="91" y1="262.5" x2="96" y2="262.5"/>
<line x1="643.5" y1="262.5" x2="648" y2="262.5"/>
<line x1="91" y1="319.5" x2="96" y2="319.5"/>
<line x1="643.5" y1="319.5" x2="648" y2="319.5"/>
<line x1="91" y1="377.5" x2="96" y2="377.5"/>
<line x1="643.5" y1="377.5" x2="648" y2="377.5"/>
<line x1="91" y1="434.5" x2="96" y2="434.5"/>
<line x1="643.5" y1="434.5" x2="648" y2="434.5"/>
<line x1="91" y1="491.5" x2="96" y2="491.5"/>
<line x1="643.5" y1="491.5" x2="648" y2="491.5"/>
<line x1="90.5" y1="33" x2="90.5" y2="38"/>
<line x1="90.5" y1="486" x2="90.5" y2="491"/>
<line x1="160.5" y1="33" x2="160.5" y2="38"/>
<line x1="160.5" y1="486" x2="160.5" y2="491"/>
<line x1="230.5" y1="33" x2="230.5" y2="38"/>
<line x1="230.5" y1="486" x2="230.5" y2="491"/>
<line x1="299.5" y1="33" x2="299.5" y2="38"/>
<line x1="299.5" y1="486" x2="299.5" y2="491"/>
<line x1="369.5" y1="33" x2="369.5" y2="38"/>
<line x1="369.5" y1="486" x2="369.5" y2="491"/>
<line x1="439.5" y1="33" x2="439.5" y2="38"/>
<line x1="439.5" y1="486" x2="439.5" y2="491"/>
<line x1="509.5" y1="33" x2="509.5" y2="38"/>
<line x1="509.5" y1="486" x2="509.5" y2="491"/>
<line x1="578.5" y1="33" x2="578.5" y2="38"/>
<line x1="578.5" y1="486" x2="578.5" y2="491"/>
<line x1="648.5" y1="33" x2="648.5" y2="38"/>
<line x1="648.5" y1="486" x2="648.5" y2="491"/>
</g>
<rect x="90.5" y="32.5" width="558" height="459" fill="none" stroke="#000" stroke-width="1" shape-rendering="crispEdges"/>
<text transform="translate(369.6 25.5) scale(0.96 1)" font-size="18.65" text-anchor="middle" style="text-rendering:geometricPrecision;stroke:#000;stroke-width:0.25px">Viby Observatory (FLC 100-70 experimental)</text>
<text class="tn" transform="translate(85.0 36) scale(0.94 1)" text-anchor="end">200</text>
<text class="tn" transform="translate(85.0 94) scale(0.94 1)" text-anchor="end">150</text>
<text class="tn" transform="translate(85.0 151) scale(0.94 1)" text-anchor="end">100</text>
<text class="tn" transform="translate(85.0 209) scale(0.94 1)" text-anchor="end">50</text>
<text class="tn" transform="translate(86.5 266) scale(0.94 1)" text-anchor="end">0</text>
<text class="tn" transform="translate(86.0 323) scale(0.94 1)" text-anchor="end">−50</text>
<text class="tn" transform="translate(85.0 381) scale(0.94 1)" text-anchor="end">−100</text>
<text class="tn" transform="translate(85.0 438) scale(0.94 1)" text-anchor="end">−150</text>
<text class="tn" transform="translate(85.0 495) scale(0.94 1)" text-anchor="end">−200</text>
<text class="tn" transform="translate(90.30 506.4) scale(0.94 1)" text-anchor="middle">00:00</text>
<text class="tn" transform="translate(160.05 506.4) scale(0.94 1)" text-anchor="middle">03:00</text>
<text class="tn" transform="translate(229.80 506.4) scale(0.94 1)" text-anchor="middle">06:00</text>
<text class="tn" transform="translate(299.55 506.4) scale(0.94 1)" text-anchor="middle">09:00</text>
<text class="tn" transform="translate(369.30 506.4) scale(0.94 1)" text-anchor="middle">12:00</text>
<text class="tn" transform="translate(439.05 506.4) scale(0.94 1)" text-anchor="middle">15:00</text>
<text class="tn" transform="translate(508.80 506.4) scale(0.94 1)" text-anchor="middle">18:00</text>
<text class="tn" transform="translate(578.55 506.4) scale(0.94 1)" text-anchor="middle">21:00</text>
<text class="tn" transform="translate(648.30 506.4) scale(0.94 1)" text-anchor="middle">00:00</text>
<text class="al" transform="translate(369.5 527.6) scale(0.96 1)" text-anchor="middle">Time [UTC]</text>
<text class="al" transform="translate(42 262.4) rotate(-90) scale(0.965 1)" text-anchor="middle">Magnetic field [nT]</text>
<text class="k" transform="translate(125.38 48.7) scale(0.96 1)" style="fill:#0000ff;stroke:#0000ff">K 0</text>
<text class="k" transform="translate(195.12 48.7) scale(0.96 1)" style="fill:#0000ff;stroke:#0000ff">K 3</text>
<text class="k" transform="translate(264.88 48.7) scale(0.96 1)" style="fill:#0000ff;stroke:#0000ff">K 2</text>
<text class="k" transform="translate(334.62 48.7) scale(0.96 1)" style="fill:#0000ff;stroke:#0000ff">K 1</text>
<text class="k" transform="translate(404.38 48.7) scale(0.96 1)" style="fill:#0000ff;stroke:#0000ff">K 3</text>
<text class="k" transform="translate(474.12 48.7) scale(0.96 1)" style="fill:#0000ff;stroke:#0000ff">K 2</text>
<text class="k" transform="translate(543.88 48.7) scale(0.96 1)" style="fill:#0000ff;stroke:#0000ff">K 1</text>
<text class="k" transform="translate(613.62 48.7) scale(0.96 1)" style="fill:#0000ff;stroke:#0000ff">K 0</text>
<text class="k" transform="translate(125.38 64.5) scale(0.96 1)" style="fill:#ff0000;stroke:#ff0000">K 0</text>
<text class="k" transform="translate(195.12 64.5) scale(0.96 1)" style="fill:#ff0000;stroke:#ff0000">K 2</text>
<text class="k" transform="translate(264.88 64.5) scale(0.96 1)" style="fill:#ff0000;stroke:#ff0000">K 2</text>
<text class="k" transform="translate(334.62 64.5) scale(0.96 1)" style="fill:#ff0000;stroke:#ff0000">K 2</text>
<text class="k" transform="translate(404.38 64.5) scale(0.96 1)" style="fill:#ff0000;stroke:#ff0000">K 2</text>
<text class="k" transform="translate(474.12 64.5) scale(0.96 1)" style="fill:#ff0000;stroke:#ff0000">K 2</text>
<text class="k" transform="translate(543.88 64.5) scale(0.96 1)" style="fill:#ff0000;stroke:#ff0000">K 1</text>
<text class="k" transform="translate(613.62 64.5) scale(0.96 1)" style="fill:#ff0000;stroke:#ff0000">K 0</text>
<text class="k" transform="translate(125.38 81.0) scale(0.96 1)" style="fill:#008000;stroke:#008000">K 0</text>
<text class="k" transform="translate(195.12 81.0) scale(0.96 1)" style="fill:#008000;stroke:#008000">K 2</text>
<text class="k" transform="translate(264.88 81.0) scale(0.96 1)" style="fill:#008000;stroke:#008000">K 3</text>
<text class="k" transform="translate(334.62 81.0) scale(0.96 1)" style="fill:#008000;stroke:#008000">K 3</text>
<text class="k" transform="translate(404.38 81.0) scale(0.96 1)" style="fill:#008000;stroke:#008000">K 1</text>
<text class="k" transform="translate(474.12 81.0) scale(0.96 1)" style="fill:#008000;stroke:#008000">K 2</text>
<text class="k" transform="translate(543.88 81.0) scale(0.96 1)" style="fill:#008000;stroke:#008000">K 2</text>
<text class="k" transform="translate(613.62 81.0) scale(0.96 1)" style="fill:#008000;stroke:#008000">K 0</text>
<text x="100.3" y="427" font-size="18.2">A=6.0</text>
<text class="m" transform="translate(98.8 434.6) scale(1.17 1)" style="fill:#0000ff;font-size:14.4px;fill-opacity:0.85">B</text>
<text class="m" transform="translate(107.9 437.6) scale(1.25 1)" style="fill:#0000ff;font-size:8.75px">x</text>
<text class="lg" x="116.7" y="435.6">North component</text>
<text class="m" transform="translate(98.8 448.6) scale(1.17 1)" style="fill:#ff0000;font-size:14.4px;fill-opacity:0.85">B</text>
<text class="m" transform="translate(108.9 452.2) scale(1.00 1)" style="fill:#ff0000;font-size:8.75px">y</text>
<text class="lg" x="116.7" y="451.6">East component</text>
<text class="m" transform="translate(98.8 466.6) scale(1.17 1)" style="fill:#008000;font-size:14.4px;fill-opacity:0.85">B</text>
<text class="m" transform="translate(107.9 469.6) scale(1.25 1)" style="fill:#008000;font-size:8.75px">z</text>
<text class="lg" x="116.7" y="467.7">Vertical component</text>
<text x="640" y="451.7" font-size="12.6" text-anchor="end">Viby-FLC Magnetometer 2020 May 14</text>
<text class="lg" x="640.2" y="468" text-anchor="end">59.46°N, 17.89°E - 57.86°N (magn.)</text>
</svg></body></html>
